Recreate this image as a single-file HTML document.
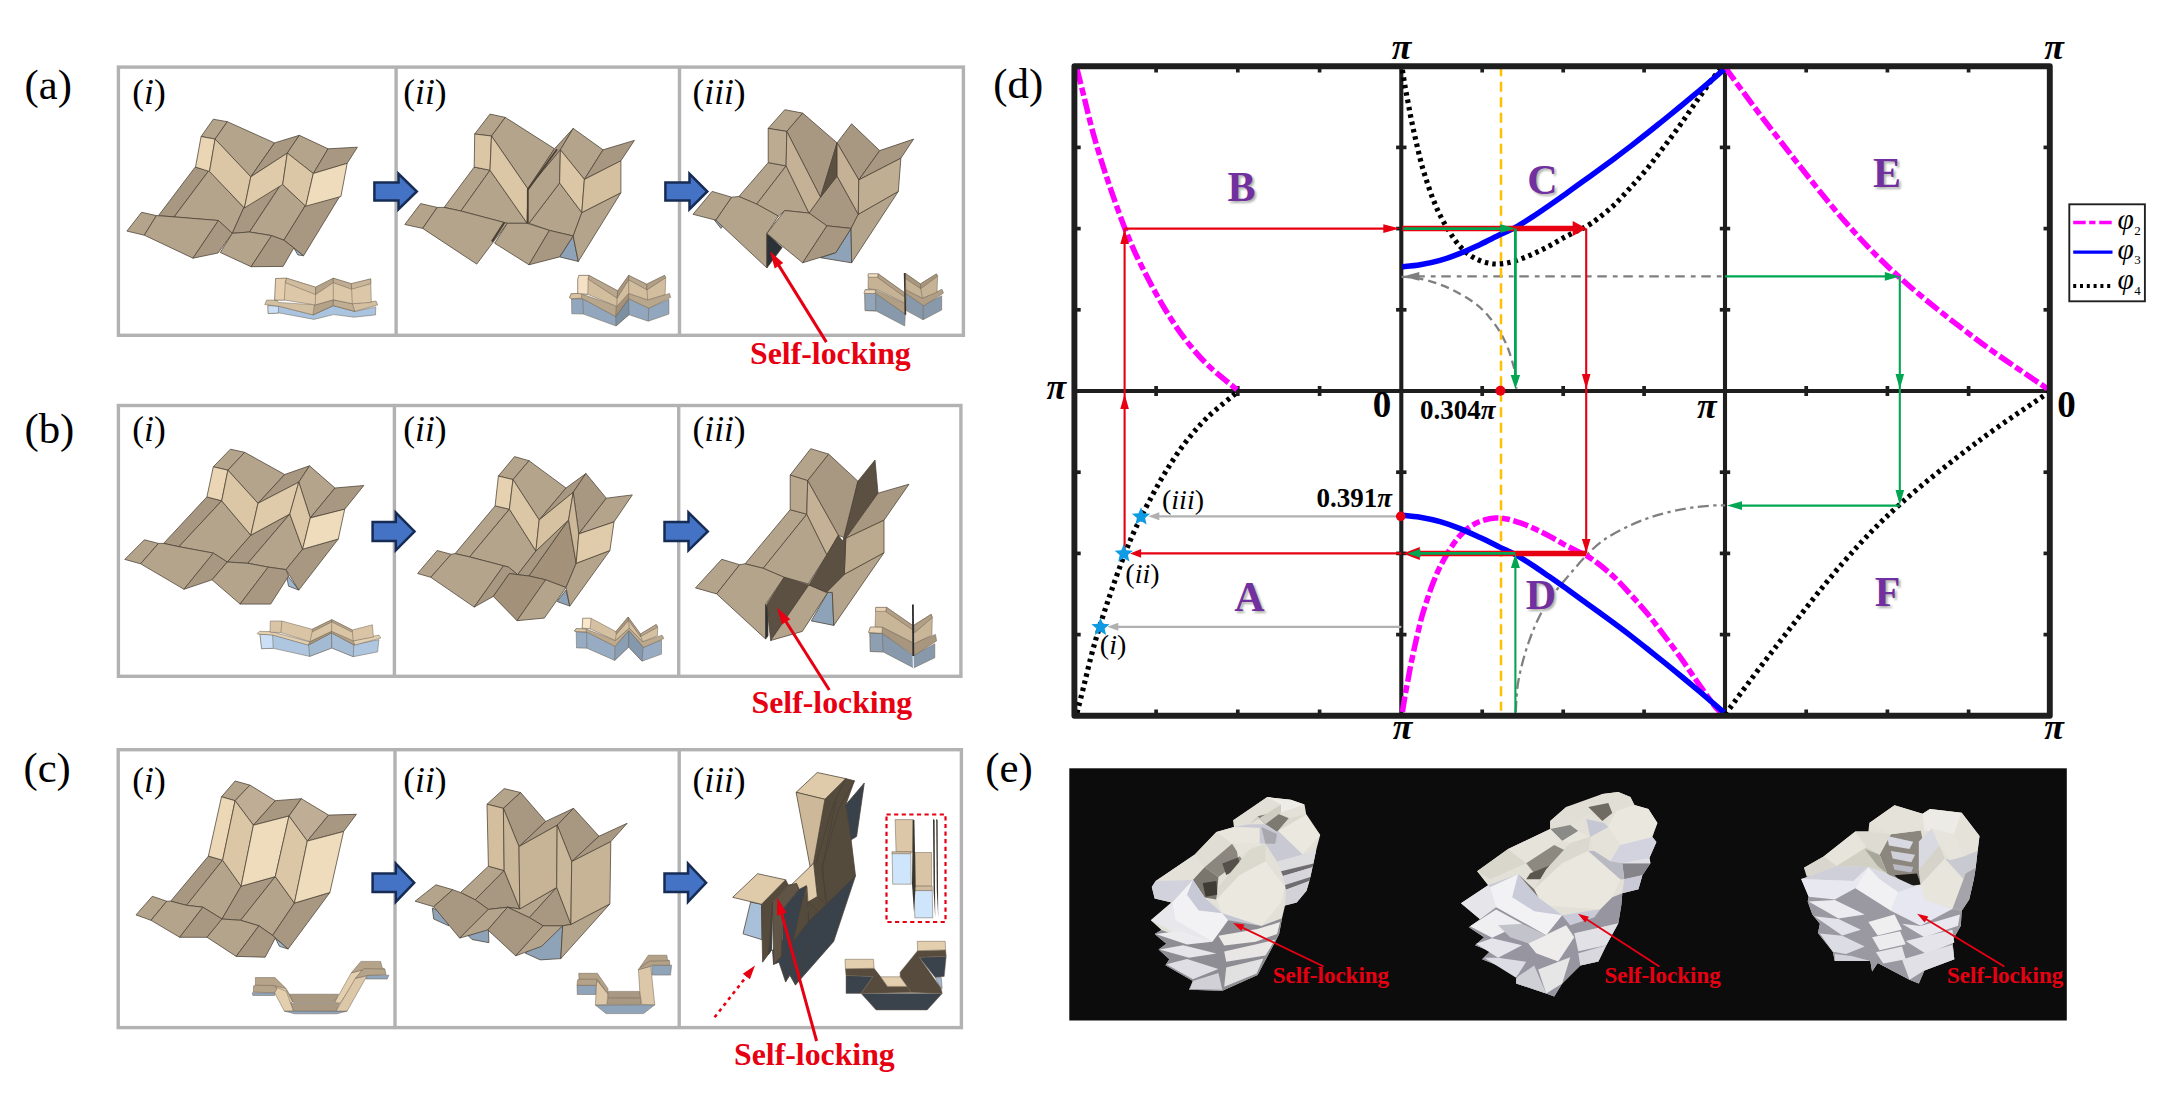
<!DOCTYPE html>
<html><head><meta charset="utf-8"><title>Figure</title>
<style>
html,body{margin:0;padding:0;background:#fff;}
body{width:2173px;height:1098px;overflow:hidden;}
svg{display:block;}
text{font-family:"Liberation Serif",serif;}
.b{font-weight:bold;}
.i{font-style:italic;}
</style></head><body>
<svg width="2173" height="1098" viewBox="0 0 2173 1098">
<rect x="118.4" y="67.1" width="845.0" height="268.2" fill="none" stroke="#b2b2b2" stroke-width="3.4"/>
<line x1="396.1" y1="67.1" x2="396.1" y2="335.3" stroke="#b2b2b2" stroke-width="3.4"/>
<line x1="679.5" y1="67.1" x2="679.5" y2="335.3" stroke="#b2b2b2" stroke-width="3.4"/>
<rect x="118.4" y="405.5" width="842.5" height="270.8" fill="none" stroke="#b2b2b2" stroke-width="3.4"/>
<line x1="394.4" y1="405.5" x2="394.4" y2="676.3" stroke="#b2b2b2" stroke-width="3.4"/>
<line x1="678.7" y1="405.5" x2="678.7" y2="676.3" stroke="#b2b2b2" stroke-width="3.4"/>
<rect x="118.2" y="749.7" width="843.2" height="277.9" fill="none" stroke="#b2b2b2" stroke-width="3.4"/>
<line x1="395.0" y1="749.7" x2="395.0" y2="1027.6" stroke="#b2b2b2" stroke-width="3.4"/>
<line x1="679.2" y1="749.7" x2="679.2" y2="1027.6" stroke="#b2b2b2" stroke-width="3.4"/>
<polygon points="293.8,247.9 303.6,255.7 297.9,254.9" fill="#9db6d2" stroke="#4a4034" stroke-width="0.75" stroke-linejoin="round"/>
<polygon points="195.1,167.2 208.9,170.5 174.1,216.9 158.5,215.6" fill="#a89882" stroke="#4a4034" stroke-width="0.75" stroke-linejoin="round"/>
<polygon points="208.9,170.5 243.8,207.7 232.3,233.3 218.4,220.5 174.1,216.9" fill="#b4a48c" stroke="#4a4034" stroke-width="0.75" stroke-linejoin="round"/>
<polygon points="243.8,207.7 281.5,183.6 249.5,232.0 232.3,233.3" fill="#a89882" stroke="#4a4034" stroke-width="0.75" stroke-linejoin="round"/>
<polygon points="281.5,183.6 305.2,205.7 283.9,240.2 271.6,235.6 249.5,232.0" fill="#b4a48c" stroke="#4a4034" stroke-width="0.75" stroke-linejoin="round"/>
<polygon points="305.2,205.7 339.7,196.4 303.6,255.7 293.8,247.9 283.9,240.2" fill="#a89882" stroke="#4a4034" stroke-width="0.75" stroke-linejoin="round"/>
<polygon points="141.6,212.3 156.4,215.6 144.3,235.2 126.9,231.1" fill="#b4a48c" stroke="#4a4034" stroke-width="0.75" stroke-linejoin="round"/>
<polygon points="156.4,215.6 174.1,216.9 218.4,220.5 193.0,258.2 144.3,235.2" fill="#b4a48c" stroke="#4a4034" stroke-width="0.75" stroke-linejoin="round"/>
<polygon points="218.4,220.5 232.3,233.3 218.0,253.0 193.0,258.2" fill="#a89882" stroke="#4a4034" stroke-width="0.75" stroke-linejoin="round"/>
<polygon points="232.3,233.3 249.5,232.0 271.6,235.6 251.1,266.7 220.3,252.5" fill="#b4a48c" stroke="#4a4034" stroke-width="0.75" stroke-linejoin="round"/>
<polygon points="271.6,235.6 283.9,240.2 293.8,247.9 283.1,266.4 251.1,266.7" fill="#a89882" stroke="#4a4034" stroke-width="0.75" stroke-linejoin="round"/>
<polygon points="213.3,119.2 227.3,121.7 215.1,139.1 201.1,136.5" fill="#b4a48c" stroke="#4a4034" stroke-width="0.75" stroke-linejoin="round"/>
<polygon points="227.3,121.7 274.5,142.9 250.8,176.8 215.1,139.1" fill="#b4a48c" stroke="#4a4034" stroke-width="0.75" stroke-linejoin="round"/>
<polygon points="274.5,142.9 299.3,135.3 287.3,153.1 250.8,176.8" fill="#a89882" stroke="#4a4034" stroke-width="0.75" stroke-linejoin="round"/>
<polygon points="299.3,135.3 328.1,148.8 313.3,173.5 287.3,153.1" fill="#b4a48c" stroke="#4a4034" stroke-width="0.75" stroke-linejoin="round"/>
<polygon points="328.1,148.8 357.4,147.2 347.2,163.3 313.3,173.5" fill="#a89882" stroke="#4a4034" stroke-width="0.75" stroke-linejoin="round"/>
<polygon points="201.1,136.5 215.1,139.1 209.5,171.5 195.5,167.1" fill="#ead5b4" stroke="#4a4034" stroke-width="0.75" stroke-linejoin="round"/>
<polygon points="215.1,139.1 250.8,176.8 244.4,208.0 209.5,171.5" fill="#dbc6a6" stroke="#4a4034" stroke-width="0.75" stroke-linejoin="round"/>
<polygon points="250.8,176.8 287.3,153.1 282.7,184.5 244.4,208.0" fill="#dfcaaa" stroke="#4a4034" stroke-width="0.75" stroke-linejoin="round"/>
<polygon points="287.3,153.1 313.3,173.5 305.7,206.2 282.7,184.5" fill="#dbc6a6" stroke="#4a4034" stroke-width="0.75" stroke-linejoin="round"/>
<polygon points="313.3,173.5 347.2,163.3 340.9,196.5 305.7,206.2" fill="#efdcbc" stroke="#4a4034" stroke-width="0.75" stroke-linejoin="round"/>
<polygon points="573.2,236.0 578.3,261.5 559.6,256.9" fill="#8ea2b8" stroke="#4a4034" stroke-width="0.75" stroke-linejoin="round"/>
<polygon points="474.2,167.1 490.0,170.2 460.9,211.0 444.1,207.4" fill="#b4a48c" stroke="#4a4034" stroke-width="0.75" stroke-linejoin="round"/>
<polygon points="490.0,170.2 527.2,223.3 507.3,223.3 460.9,211.0" fill="#b4a48c" stroke="#4a4034" stroke-width="0.75" stroke-linejoin="round"/>
<polygon points="529.0,223.3 559.6,183.0 581.8,212.6 573.2,236.0 549.4,230.4" fill="#b4a48c" stroke="#4a4034" stroke-width="0.75" stroke-linejoin="round"/>
<polygon points="581.8,212.6 620.9,192.7 578.3,261.5 573.2,236.0" fill="#b4a48c" stroke="#4a4034" stroke-width="0.75" stroke-linejoin="round"/>
<polygon points="420.6,203.6 437.2,207.4 422.7,228.4 404.8,224.5" fill="#b4a48c" stroke="#4a4034" stroke-width="0.75" stroke-linejoin="round"/>
<polygon points="437.2,207.4 444.1,207.4 460.9,211.0 507.3,223.3 476.7,264.1 422.7,228.4" fill="#b4a48c" stroke="#4a4034" stroke-width="0.75" stroke-linejoin="round"/>
<polygon points="507.3,223.3 527.2,223.3 549.4,230.4 529.0,264.8 494.6,243.2" fill="#b4a48c" stroke="#4a4034" stroke-width="0.75" stroke-linejoin="round"/>
<polygon points="549.4,230.4 573.2,236.0 559.6,256.9 529.0,264.8" fill="#a89882" stroke="#4a4034" stroke-width="0.75" stroke-linejoin="round"/>
<polyline points="504.3,222.5 492.0,241.6" fill="none" stroke="#4a4034" stroke-width="2.2" />
<polygon points="490.0,114.1 505.3,117.4 491.5,136.0 474.7,134.0" fill="#b4a48c" stroke="#4a4034" stroke-width="0.75" stroke-linejoin="round"/>
<polygon points="474.7,134.0 491.5,136.0 490.0,170.2 474.2,167.1" fill="#dbc6a6" stroke="#4a4034" stroke-width="0.75" stroke-linejoin="round"/>
<polygon points="505.3,117.4 554.5,148.8 527.8,188.8 491.5,136.0" fill="#b4a48c" stroke="#4a4034" stroke-width="0.75" stroke-linejoin="round"/>
<polygon points="491.5,136.0 527.8,188.8 527.2,223.3 490.0,170.2" fill="#dbc6a6" stroke="#4a4034" stroke-width="0.75" stroke-linejoin="round"/>
<polygon points="554.5,148.8 573.2,128.4 560.4,149.8 527.8,188.8" fill="#a89882" stroke="#4a4034" stroke-width="0.75" stroke-linejoin="round"/>
<polygon points="527.8,188.8 560.4,149.8 559.6,183.0 529.0,223.3 527.2,223.3" fill="#b4a48c" stroke="#4a4034" stroke-width="0.75" stroke-linejoin="round"/>
<polygon points="573.2,128.4 603.0,149.8 584.4,179.4 560.4,149.8" fill="#b4a48c" stroke="#4a4034" stroke-width="0.75" stroke-linejoin="round"/>
<polygon points="560.4,149.8 584.4,179.4 581.8,212.6 559.6,183.0" fill="#dbc6a6" stroke="#4a4034" stroke-width="0.75" stroke-linejoin="round"/>
<polygon points="603.0,149.8 634.4,140.4 620.9,160.8 584.4,179.4" fill="#a89882" stroke="#4a4034" stroke-width="0.75" stroke-linejoin="round"/>
<polygon points="584.4,179.4 620.9,160.8 620.9,192.7 581.8,212.6" fill="#d4bf9f" stroke="#4a4034" stroke-width="0.75" stroke-linejoin="round"/>
<polyline points="557.1,149.3 527.8,189.6 527.8,223.3" fill="none" stroke="#4a4034" stroke-width="1.8" />
<polygon points="713.9,219.4 721.0,228.4 724.8,223.3" fill="#8ea2b8" stroke="#4a4034" stroke-width="0.75" stroke-linejoin="round"/>
<polygon points="851.1,228.4 851.6,262.8 820.5,257.7 835.8,252.6" fill="#8ea2b8" stroke="#4a4034" stroke-width="0.75" stroke-linejoin="round"/>
<polygon points="768.2,162.6 786.1,165.9 756.7,204.1 738.9,196.5" fill="#b4a48c" stroke="#4a4034" stroke-width="0.75" stroke-linejoin="round"/>
<polygon points="786.1,165.9 809.0,213.1 784.8,210.5 778.4,216.1 756.7,204.1" fill="#b4a48c" stroke="#4a4034" stroke-width="0.75" stroke-linejoin="round"/>
<polygon points="820.5,197.2 837.1,176.1 858.3,214.3 851.1,228.4 826.9,225.8 809.0,213.1" fill="#a89882" stroke="#4a4034" stroke-width="0.75" stroke-linejoin="round"/>
<polygon points="858.3,214.3 898.3,191.4 851.6,262.8 851.1,228.4" fill="#b4a48c" stroke="#4a4034" stroke-width="0.75" stroke-linejoin="round"/>
<polygon points="712.1,191.4 731.7,197.2 715.9,220.2 693.0,214.3" fill="#b4a48c" stroke="#4a4034" stroke-width="0.75" stroke-linejoin="round"/>
<polygon points="731.7,197.2 738.9,196.5 756.7,204.1 778.4,216.1 766.9,233.5 766.9,267.9 715.9,220.2" fill="#b4a48c" stroke="#4a4034" stroke-width="0.75" stroke-linejoin="round"/>
<polygon points="766.9,233.5 782.2,247.5 766.9,267.9" fill="#2c3037" stroke="#4a4034" stroke-width="0.75" stroke-linejoin="round"/>
<polygon points="784.8,210.5 809.0,213.1 826.9,225.8 802.7,262.8 766.9,233.5" fill="#b4a48c" stroke="#4a4034" stroke-width="0.75" stroke-linejoin="round"/>
<polygon points="826.9,225.8 851.1,228.4 835.8,252.6 802.7,262.8" fill="#a89882" stroke="#4a4034" stroke-width="0.75" stroke-linejoin="round"/>
<polygon points="784.8,109.7 802.7,113.1 786.8,131.4 768.2,128.4" fill="#b4a48c" stroke="#4a4034" stroke-width="0.75" stroke-linejoin="round"/>
<polygon points="768.2,128.4 786.8,131.4 786.1,165.9 768.2,162.6" fill="#bcab91" stroke="#4a4034" stroke-width="0.75" stroke-linejoin="round"/>
<polygon points="802.7,113.1 837.1,142.9 820.5,197.2 786.8,131.4" fill="#a89882" stroke="#4a4034" stroke-width="0.75" stroke-linejoin="round"/>
<polygon points="786.8,131.4 820.5,197.2 809.0,213.1 786.1,165.9" fill="#c5b296" stroke="#4a4034" stroke-width="0.75" stroke-linejoin="round"/>
<polygon points="837.1,142.9 837.1,176.1 820.5,197.2" fill="#5b5042" stroke="#4a4034" stroke-width="0.75" stroke-linejoin="round"/>
<polygon points="837.1,142.9 851.6,123.8 879.7,150.6 858.8,179.9" fill="#a89882" stroke="#4a4034" stroke-width="0.75" stroke-linejoin="round"/>
<polygon points="837.1,142.9 858.8,179.9 858.3,214.3 837.1,176.1" fill="#c5b296" stroke="#4a4034" stroke-width="0.75" stroke-linejoin="round"/>
<polygon points="879.7,150.6 913.6,139.1 900.9,158.2 858.8,179.9" fill="#a89882" stroke="#4a4034" stroke-width="0.75" stroke-linejoin="round"/>
<polygon points="858.8,179.9 900.9,158.2 898.3,191.4 858.3,214.3" fill="#c0ae93" stroke="#4a4034" stroke-width="0.75" stroke-linejoin="round"/>
<polygon points="286.0,573.5 298.8,590.1 288.6,586.2" fill="#9db6d2" stroke="#4a4034" stroke-width="0.75" stroke-linejoin="round"/>
<polygon points="206.9,496.9 221.7,500.8 178.9,546.7 163.6,543.4" fill="#a89882" stroke="#4a4034" stroke-width="0.75" stroke-linejoin="round"/>
<polygon points="221.7,500.8 250.8,535.2 227.3,562.0 213.3,553.1 178.9,546.7" fill="#b4a48c" stroke="#4a4034" stroke-width="0.75" stroke-linejoin="round"/>
<polygon points="250.8,535.2 289.8,514.0 247.8,563.3 227.3,562.0" fill="#a89882" stroke="#4a4034" stroke-width="0.75" stroke-linejoin="round"/>
<polygon points="289.8,514.0 302.6,549.2 286.0,569.6 268.2,567.1 247.8,563.3" fill="#b4a48c" stroke="#4a4034" stroke-width="0.75" stroke-linejoin="round"/>
<polygon points="302.6,549.2 338.3,539.0 298.8,590.1 286.0,569.6" fill="#a89882" stroke="#4a4034" stroke-width="0.75" stroke-linejoin="round"/>
<polygon points="144.4,539.8 158.5,543.4 140.6,563.8 124.8,559.4" fill="#b4a48c" stroke="#4a4034" stroke-width="0.75" stroke-linejoin="round"/>
<polygon points="158.5,543.4 163.6,543.4 178.9,546.7 213.3,553.1 184.0,589.3 140.6,563.8" fill="#b4a48c" stroke="#4a4034" stroke-width="0.75" stroke-linejoin="round"/>
<polygon points="213.3,553.1 227.3,562.0 212.0,579.8 184.0,589.3" fill="#a89882" stroke="#4a4034" stroke-width="0.75" stroke-linejoin="round"/>
<polygon points="227.3,562.0 247.8,563.3 268.2,567.1 240.1,604.1 212.0,579.8" fill="#b4a48c" stroke="#4a4034" stroke-width="0.75" stroke-linejoin="round"/>
<polygon points="268.2,567.1 286.0,569.6 288.6,576.0 270.7,604.1 240.1,604.1" fill="#a89882" stroke="#4a4034" stroke-width="0.75" stroke-linejoin="round"/>
<polygon points="230.4,449.2 244.7,452.3 227.9,470.2 213.3,466.8" fill="#b4a48c" stroke="#4a4034" stroke-width="0.75" stroke-linejoin="round"/>
<polygon points="213.3,466.8 227.9,470.2 221.7,500.8 206.9,496.9" fill="#ead5b4" stroke="#4a4034" stroke-width="0.75" stroke-linejoin="round"/>
<polygon points="244.7,452.3 284.7,474.5 258.0,503.3 227.9,470.2" fill="#b4a48c" stroke="#4a4034" stroke-width="0.75" stroke-linejoin="round"/>
<polygon points="227.9,470.2 258.0,503.3 250.8,535.2 221.7,500.8" fill="#dbc6a6" stroke="#4a4034" stroke-width="0.75" stroke-linejoin="round"/>
<polygon points="284.7,474.5 309.5,465.8 298.8,482.1 258.0,503.3" fill="#a89882" stroke="#4a4034" stroke-width="0.75" stroke-linejoin="round"/>
<polygon points="258.0,503.3 298.8,482.1 289.8,514.0 250.8,535.2" fill="#dfcaaa" stroke="#4a4034" stroke-width="0.75" stroke-linejoin="round"/>
<polygon points="309.5,465.8 335.0,488.0 310.3,517.9 298.8,482.1" fill="#b4a48c" stroke="#4a4034" stroke-width="0.75" stroke-linejoin="round"/>
<polygon points="298.8,482.1 310.3,517.9 302.6,549.2 289.8,514.0" fill="#dbc6a6" stroke="#4a4034" stroke-width="0.75" stroke-linejoin="round"/>
<polygon points="335.0,488.0 363.8,485.5 344.7,509.2 310.3,517.9" fill="#a89882" stroke="#4a4034" stroke-width="0.75" stroke-linejoin="round"/>
<polygon points="310.3,517.9 344.7,509.2 338.3,539.0 302.6,549.2" fill="#efdcbc" stroke="#4a4034" stroke-width="0.75" stroke-linejoin="round"/>
<polygon points="566.0,590.1 569.8,606.1 557.1,601.5" fill="#8ea2b8" stroke="#4a4034" stroke-width="0.75" stroke-linejoin="round"/>
<polygon points="495.1,505.9 509.4,509.2 469.6,556.9 455.1,553.6" fill="#b4a48c" stroke="#4a4034" stroke-width="0.75" stroke-linejoin="round"/>
<polygon points="509.4,509.2 535.9,551.0 517.6,574.7 508.6,567.1 469.6,556.9" fill="#b4a48c" stroke="#4a4034" stroke-width="0.75" stroke-linejoin="round"/>
<polygon points="535.9,551.0 568.6,519.9 529.0,576.0 517.6,574.7" fill="#a89882" stroke="#4a4034" stroke-width="0.75" stroke-linejoin="round"/>
<polygon points="568.6,519.9 576.2,563.3 566.0,587.5 545.6,579.8 529.0,576.0" fill="#a39279" stroke="#4a4034" stroke-width="0.75" stroke-linejoin="round"/>
<polygon points="576.2,563.3 609.9,550.5 569.8,606.1 566.0,587.5" fill="#b4a48c" stroke="#4a4034" stroke-width="0.75" stroke-linejoin="round"/>
<polygon points="437.2,550.5 451.2,554.3 430.8,577.3 417.6,573.5" fill="#b4a48c" stroke="#4a4034" stroke-width="0.75" stroke-linejoin="round"/>
<polygon points="451.2,554.3 455.1,553.6 469.6,556.9 503.5,565.8 474.2,607.1 430.8,577.3" fill="#b4a48c" stroke="#4a4034" stroke-width="0.75" stroke-linejoin="round"/>
<polygon points="503.5,565.8 508.6,567.1 517.6,574.7 509.4,573.5 493.3,596.4 474.2,607.1" fill="#a89882" stroke="#4a4034" stroke-width="0.75" stroke-linejoin="round"/>
<polygon points="509.4,573.5 517.6,574.7 529.0,576.0 545.6,579.8 517.0,620.7 493.3,596.4" fill="#a39279" stroke="#4a4034" stroke-width="0.75" stroke-linejoin="round"/>
<polygon points="545.6,579.8 566.0,587.5 544.3,618.1 517.0,620.7" fill="#b4a48c" stroke="#4a4034" stroke-width="0.75" stroke-linejoin="round"/>
<polygon points="514.5,456.6 529.0,460.7 513.0,479.6 498.4,476.0" fill="#b4a48c" stroke="#4a4034" stroke-width="0.75" stroke-linejoin="round"/>
<polygon points="498.4,476.0 513.0,479.6 509.4,509.2 495.1,505.9" fill="#e6d1b0" stroke="#4a4034" stroke-width="0.75" stroke-linejoin="round"/>
<polygon points="529.0,460.7 566.0,488.0 539.2,519.9 513.0,479.6" fill="#b4a48c" stroke="#4a4034" stroke-width="0.75" stroke-linejoin="round"/>
<polygon points="513.0,479.6 539.2,519.9 535.9,551.0 509.4,509.2" fill="#dbc6a6" stroke="#4a4034" stroke-width="0.75" stroke-linejoin="round"/>
<polygon points="566.0,488.0 585.9,473.5 573.2,492.3 539.2,519.9" fill="#a89882" stroke="#4a4034" stroke-width="0.75" stroke-linejoin="round"/>
<polygon points="539.2,519.9 573.2,492.3 568.6,519.9 535.9,551.0" fill="#d6c1a1" stroke="#4a4034" stroke-width="0.75" stroke-linejoin="round"/>
<polygon points="585.9,473.5 606.3,498.2 578.8,533.9 573.2,492.3" fill="#a89882" stroke="#4a4034" stroke-width="0.75" stroke-linejoin="round"/>
<polygon points="573.2,492.3 578.8,533.9 576.2,563.3 568.6,519.9" fill="#cdb999" stroke="#4a4034" stroke-width="0.75" stroke-linejoin="round"/>
<polygon points="606.3,498.2 632.3,494.9 614.0,521.9 578.8,533.9" fill="#b4a48c" stroke="#4a4034" stroke-width="0.75" stroke-linejoin="round"/>
<polygon points="578.8,533.9 614.0,521.9 609.9,550.5 576.2,563.3" fill="#e0cbaa" stroke="#4a4034" stroke-width="0.75" stroke-linejoin="round"/>
<polygon points="827.8,592.4 832.3,592.4 833.8,625.4 811.3,620.9" fill="#8ea2b8" stroke="#4a4034" stroke-width="0.75" stroke-linejoin="round"/>
<polygon points="790.2,509.7 806.8,514.2 763.2,568.3 745.1,563.8" fill="#b4a48c" stroke="#4a4034" stroke-width="0.75" stroke-linejoin="round"/>
<polygon points="806.8,514.2 826.9,554.8 808.3,583.9 784.2,577.3 763.2,568.3" fill="#b4a48c" stroke="#4a4034" stroke-width="0.75" stroke-linejoin="round"/>
<polygon points="844.3,574.3 884.0,552.7 833.8,625.4 832.3,592.4 826.3,592.4" fill="#b4a48c" stroke="#4a4034" stroke-width="0.75" stroke-linejoin="round"/>
<polygon points="721.7,559.3 739.7,564.7 716.6,593.9 695.5,587.9" fill="#b4a48c" stroke="#4a4034" stroke-width="0.75" stroke-linejoin="round"/>
<polygon points="739.7,564.7 745.1,563.8 763.2,568.3 784.2,577.3 765.6,604.4 765.6,639.0 716.6,593.9" fill="#b4a48c" stroke="#4a4034" stroke-width="0.75" stroke-linejoin="round"/>
<polygon points="765.6,604.4 768.0,607.4 768.0,635.9 765.6,639.0" fill="#2c3037" stroke="#4a4034" stroke-width="0.75" stroke-linejoin="round"/>
<polygon points="784.2,577.3 808.9,584.9 770.7,640.5 766.8,604.4" fill="#5b5042" stroke="#4a4034" stroke-width="0.75" stroke-linejoin="round"/>
<polygon points="808.9,584.9 827.8,592.4 802.3,631.4 770.7,640.5" fill="#b4a48c" stroke="#4a4034" stroke-width="0.75" stroke-linejoin="round"/>
<polygon points="810.7,448.7 828.7,454.1 807.7,480.6 790.2,475.1" fill="#b4a48c" stroke="#4a4034" stroke-width="0.75" stroke-linejoin="round"/>
<polygon points="790.2,475.1 807.7,480.6 806.8,514.2 790.2,509.7" fill="#b9a88e" stroke="#4a4034" stroke-width="0.75" stroke-linejoin="round"/>
<polygon points="828.7,454.1 857.9,481.2 845.8,538.3 838.3,535.3 807.7,480.6" fill="#a89882" stroke="#4a4034" stroke-width="0.75" stroke-linejoin="round"/>
<polygon points="807.7,480.6 838.3,535.3 826.9,554.8 806.8,514.2" fill="#c5b296" stroke="#4a4034" stroke-width="0.75" stroke-linejoin="round"/>
<polygon points="857.9,481.2 875.0,460.1 878.0,493.2 845.8,538.3 842.8,541.3" fill="#5b5042" stroke="#4a4034" stroke-width="0.75" stroke-linejoin="round"/>
<polygon points="878.0,493.2 909.0,484.2 884.0,520.2 845.8,538.3" fill="#a89882" stroke="#4a4034" stroke-width="0.75" stroke-linejoin="round"/>
<polygon points="845.8,538.3 884.0,520.2 884.0,552.7 844.3,574.3" fill="#bcaa8f" stroke="#4a4034" stroke-width="0.75" stroke-linejoin="round"/>
<polygon points="826.9,554.8 838.3,535.3 842.8,541.3 845.8,538.3 844.3,574.3 826.3,592.4 808.9,584.9" fill="#5b5042" stroke="#4a4034" stroke-width="0.75" stroke-linejoin="round"/>
<polygon points="275.3,938.1 288.1,949.0 279.4,946.3" fill="#9db6d2" stroke="#4a4034" stroke-width="0.75" stroke-linejoin="round"/>
<polygon points="208.4,856.1 222.6,860.2 186.5,905.3 170.7,901.2" fill="#a89882" stroke="#4a4034" stroke-width="0.75" stroke-linejoin="round"/>
<polygon points="222.6,860.2 241.1,886.2 222.0,919.0 202.9,907.2 186.5,905.3" fill="#b4a48c" stroke="#4a4034" stroke-width="0.75" stroke-linejoin="round"/>
<polygon points="241.1,886.2 275.3,876.6 240.6,920.3 222.0,919.0" fill="#a89882" stroke="#4a4034" stroke-width="0.75" stroke-linejoin="round"/>
<polygon points="275.3,876.6 294.4,903.1 272.6,935.4 258.9,925.8 240.6,920.3" fill="#b4a48c" stroke="#4a4034" stroke-width="0.75" stroke-linejoin="round"/>
<polygon points="294.4,903.1 329.9,892.5 288.1,949.0 272.6,935.4" fill="#a89882" stroke="#4a4034" stroke-width="0.75" stroke-linejoin="round"/>
<polygon points="152.3,896.3 166.8,901.2 151.0,920.3 136.0,914.9" fill="#b4a48c" stroke="#4a4034" stroke-width="0.75" stroke-linejoin="round"/>
<polygon points="166.8,901.2 170.7,901.2 186.5,905.3 202.9,907.2 179.7,937.3 151.0,920.3" fill="#b4a48c" stroke="#4a4034" stroke-width="0.75" stroke-linejoin="round"/>
<polygon points="202.9,907.2 222.0,919.0 207.0,937.3 179.7,937.3" fill="#a89882" stroke="#4a4034" stroke-width="0.75" stroke-linejoin="round"/>
<polygon points="222.0,919.0 240.6,920.3 258.9,925.8 236.2,956.4 207.0,937.3" fill="#b4a48c" stroke="#4a4034" stroke-width="0.75" stroke-linejoin="round"/>
<polygon points="258.9,925.8 272.6,935.4 275.3,938.1 265.2,957.2 236.2,956.4" fill="#a89882" stroke="#4a4034" stroke-width="0.75" stroke-linejoin="round"/>
<polygon points="235.1,781.0 249.9,785.1 235.1,800.7 221.5,796.8" fill="#b4a48c" stroke="#4a4034" stroke-width="0.75" stroke-linejoin="round"/>
<polygon points="221.5,796.8 235.1,800.7 222.6,860.2 208.4,856.1" fill="#ecd8b7" stroke="#4a4034" stroke-width="0.75" stroke-linejoin="round"/>
<polygon points="249.9,785.1 275.3,800.7 253.4,825.2 235.1,800.7" fill="#bfae95" stroke="#4a4034" stroke-width="0.75" stroke-linejoin="round"/>
<polygon points="235.1,800.7 253.4,825.2 241.1,886.2 222.6,860.2" fill="#dbc6a6" stroke="#4a4034" stroke-width="0.75" stroke-linejoin="round"/>
<polygon points="275.3,800.7 301.3,798.7 289.0,816.0 253.4,825.2" fill="#a89882" stroke="#4a4034" stroke-width="0.75" stroke-linejoin="round"/>
<polygon points="253.4,825.2 289.0,816.0 275.3,876.6 241.1,886.2" fill="#efdcbc" stroke="#4a4034" stroke-width="0.75" stroke-linejoin="round"/>
<polygon points="301.3,798.7 328.6,815.1 307.3,841.1 289.0,816.0" fill="#bfae95" stroke="#4a4034" stroke-width="0.75" stroke-linejoin="round"/>
<polygon points="289.0,816.0 307.3,841.1 294.4,903.1 275.3,876.6" fill="#dbc6a6" stroke="#4a4034" stroke-width="0.75" stroke-linejoin="round"/>
<polygon points="328.6,815.1 356.4,814.3 343.6,831.5 307.3,841.1" fill="#a89882" stroke="#4a4034" stroke-width="0.75" stroke-linejoin="round"/>
<polygon points="307.3,841.1 343.6,831.5 329.9,892.5 294.4,903.1" fill="#efdcbc" stroke="#4a4034" stroke-width="0.75" stroke-linejoin="round"/>
<polygon points="432.3,908.0 448.7,914.9 448.7,925.8 433.7,919.0" fill="#8ea2b8" stroke="#4a4034" stroke-width="0.75" stroke-linejoin="round"/>
<polygon points="467.9,935.4 488.4,928.5 488.9,942.7 472.0,939.5" fill="#8ea2b8" stroke="#4a4034" stroke-width="0.75" stroke-linejoin="round"/>
<polygon points="525.2,953.1 562.7,925.8 560.8,958.6 540.3,959.9" fill="#8ea2b8" stroke="#4a4034" stroke-width="0.75" stroke-linejoin="round"/>
<polygon points="488.4,866.2 504.2,870.6 475.2,899.8 460.5,892.5" fill="#b4a48c" stroke="#4a4034" stroke-width="0.75" stroke-linejoin="round"/>
<polygon points="504.2,870.6 519.8,908.9 507.5,907.2 488.4,909.4 475.2,899.8" fill="#a89882" stroke="#4a4034" stroke-width="0.75" stroke-linejoin="round"/>
<polygon points="519.8,908.9 556.7,887.5 529.3,917.6 507.5,907.2" fill="#b4a48c" stroke="#4a4034" stroke-width="0.75" stroke-linejoin="round"/>
<polygon points="556.7,887.5 570.9,924.4 562.7,925.8 543.0,925.8 529.3,917.6" fill="#a89882" stroke="#4a4034" stroke-width="0.75" stroke-linejoin="round"/>
<polygon points="570.9,924.4 609.9,903.9 560.8,958.6 562.7,925.8" fill="#b4a48c" stroke="#4a4034" stroke-width="0.75" stroke-linejoin="round"/>
<polygon points="435.9,884.8 452.8,889.7 433.7,906.7 415.1,901.2" fill="#b4a48c" stroke="#4a4034" stroke-width="0.75" stroke-linejoin="round"/>
<polygon points="452.8,889.7 460.5,892.5 475.2,899.8 488.4,909.4 459.7,938.1 433.7,906.7" fill="#a89882" stroke="#4a4034" stroke-width="0.75" stroke-linejoin="round"/>
<polygon points="488.4,909.4 507.5,907.2 487.8,929.9 459.7,938.1" fill="#b4a48c" stroke="#4a4034" stroke-width="0.75" stroke-linejoin="round"/>
<polygon points="507.5,907.2 529.3,917.6 543.0,925.8 515.7,955.8 487.8,929.9" fill="#a89882" stroke="#4a4034" stroke-width="0.75" stroke-linejoin="round"/>
<polygon points="543.0,925.8 562.7,925.8 541.6,946.3 515.7,955.8" fill="#b4a48c" stroke="#4a4034" stroke-width="0.75" stroke-linejoin="round"/>
<polygon points="504.2,788.6 520.6,792.5 503.4,808.3 487.0,804.2" fill="#b4a48c" stroke="#4a4034" stroke-width="0.75" stroke-linejoin="round"/>
<polygon points="487.0,804.2 503.4,808.3 504.2,870.6 488.4,866.2" fill="#d3be9e" stroke="#4a4034" stroke-width="0.75" stroke-linejoin="round"/>
<polygon points="520.6,792.5 545.7,821.4 519.0,846.6 503.4,808.3" fill="#a89882" stroke="#4a4034" stroke-width="0.75" stroke-linejoin="round"/>
<polygon points="503.4,808.3 519.0,846.6 519.8,908.9 504.2,870.6" fill="#c9b699" stroke="#4a4034" stroke-width="0.75" stroke-linejoin="round"/>
<polygon points="545.7,821.4 573.6,808.3 557.2,825.2 519.0,846.6" fill="#a89882" stroke="#4a4034" stroke-width="0.75" stroke-linejoin="round"/>
<polygon points="519.0,846.6 557.2,825.2 556.7,887.5 519.8,908.9" fill="#c7b497" stroke="#4a4034" stroke-width="0.75" stroke-linejoin="round"/>
<polygon points="573.6,808.3 599.0,836.2 571.7,861.6 557.2,825.2" fill="#a89882" stroke="#4a4034" stroke-width="0.75" stroke-linejoin="round"/>
<polygon points="557.2,825.2 571.7,861.6 570.9,924.4 556.7,887.5" fill="#cbb89a" stroke="#4a4034" stroke-width="0.75" stroke-linejoin="round"/>
<polygon points="599.0,836.2 627.2,823.3 610.8,841.6 571.7,861.6" fill="#a89882" stroke="#4a4034" stroke-width="0.75" stroke-linejoin="round"/>
<polygon points="571.7,861.6 610.8,841.6 609.9,903.9 570.9,924.4" fill="#c7b497" stroke="#4a4034" stroke-width="0.75" stroke-linejoin="round"/>
<polygon points="855.5,875.8 833.7,941.4 795.4,985.1 789.9,975.3 785.6,981.9 779.0,962.2 773.6,964.4 772.5,950.2 808.5,913.0" fill="#39414b" stroke="#4a4034" stroke-width="0.75" stroke-linejoin="round"/>
<polyline points="795.4,985.1 808.5,943.6" fill="none" stroke="#4a4034" stroke-width="0.9" />
<polyline points="785.6,981.9 792.1,956.7" fill="none" stroke="#4a4034" stroke-width="0.9" />
<polygon points="750.6,902.1 761.5,904.3 762.0,939.7 743.0,933.8" fill="#a9c0db" stroke="#4a4034" stroke-width="0.75" stroke-linejoin="round"/>
<polygon points="824.9,799.3 845.7,778.6 854.4,780.8 845.7,804.8 851.1,839.8 855.5,875.8 808.5,921.7 807.4,902.1 817.3,896.6 813.6,862.7" fill="#554b3d" stroke="#4a4034" stroke-width="0.75" stroke-linejoin="round"/>
<polygon points="845.7,804.8 864.3,783.0 856.6,836.5 851.1,839.8" fill="#39414b" stroke="#4a4034" stroke-width="0.75" stroke-linejoin="round"/>
<polyline points="845.7,778.6 833.7,803.7 816.2,862.7" fill="none" stroke="#4a4034" stroke-width="0.9" />
<polyline points="854.4,780.8 839.1,808.1 821.6,869.3 827.1,904.3" fill="none" stroke="#4a4034" stroke-width="0.9" />
<polyline points="835.8,801.5 822.7,864.9 825.4,899.9" fill="none" stroke="#4a4034" stroke-width="0.9" />
<polyline points="817.3,896.6 827.1,904.3" fill="none" stroke="#4a4034" stroke-width="0.9" />
<polyline points="807.9,902.1 817.3,910.8" fill="none" stroke="#4a4034" stroke-width="0.9" />
<polygon points="788.9,887.2 810.1,866.7 813.6,862.7 817.3,896.6 807.9,902.1 807.0,886.8 799.1,890.3 796.5,883.5" fill="#e0ccab" stroke="#4a4034" stroke-width="0.75" stroke-linejoin="round"/>
<polygon points="817.3,772.5 845.7,778.6 824.9,799.3 796.1,792.3" fill="#dfcaa9" stroke="#4a4034" stroke-width="0.75" stroke-linejoin="round"/>
<polygon points="796.1,792.3 824.9,799.3 813.6,862.7 810.1,866.7" fill="#cdb999" stroke="#4a4034" stroke-width="0.75" stroke-linejoin="round"/>
<polygon points="785.6,879.8 788.2,885.0 772.5,902.1 771.4,950.2 762.6,962.2 761.5,904.3" fill="#554b3d" stroke="#4a4034" stroke-width="0.75" stroke-linejoin="round"/>
<polygon points="788.2,885.0 796.5,883.5 799.1,889.4 783.4,908.6 781.2,956.7 773.6,964.4 772.5,902.1" fill="#5f5445" stroke="#4a4034" stroke-width="0.75" stroke-linejoin="round"/>
<polygon points="799.1,889.4 806.3,885.7 793.2,941.4 782.3,956.7 783.4,908.6" fill="#39414b" stroke="#4a4034" stroke-width="0.75" stroke-linejoin="round"/>
<polygon points="806.3,885.7 808.5,921.7 793.2,941.4" fill="#554b3d" stroke="#4a4034" stroke-width="0.75" stroke-linejoin="round"/>
<polygon points="772.5,902.1 771.4,950.2 768.5,954.5" fill="#39414b" stroke="#4a4034" stroke-width="0.75" stroke-linejoin="round"/>
<polygon points="757.6,873.7 785.6,879.8 761.5,904.3 732.7,897.3" fill="#dfcaa9" stroke="#4a4034" stroke-width="0.75" stroke-linejoin="round"/>
<polygon points="267.9,305.6 278.8,306.2 313.0,314.9 333.3,305.6 354.9,311.4 375.8,306.9 375.5,314.9 354.2,317.2 333.6,314.6 314.0,319.4 279.5,313.0 268.2,313.6" fill="#aac3de" stroke="#6e6352" stroke-width="0.5" stroke-linejoin="round"/>
<polygon points="267.9,305.6 278.5,306.2 278.5,313.0 268.2,313.6" fill="#cbe0f6" stroke="#6e6352" stroke-width="0.5" stroke-linejoin="round"/>
<polygon points="264.7,304.6 266.6,300.1 276.9,300.1 278.2,302.4 315.2,304.9 333.3,299.8 352.3,303.7 376.1,301.1 377.7,304.9 354.9,311.4 333.3,305.6 313.0,314.9 278.8,306.2" fill="#d3bfa1" stroke="#6e6352" stroke-width="0.5" stroke-linejoin="round"/>
<polygon points="314.3,305.3 333.3,299.8 333.3,305.6 313.0,314.9" fill="#b5a389" stroke="#6e6352" stroke-width="0.5" stroke-linejoin="round"/>
<polygon points="333.3,299.8 352.3,303.7 354.9,311.4 333.3,305.6" fill="#c0ad92" stroke="#6e6352" stroke-width="0.5" stroke-linejoin="round"/>
<polygon points="275.6,278.5 286.6,278.2 315.6,287.2 333.3,278.2 351.3,283.7 370.7,278.9 371.3,302.4 352.3,303.7 333.3,299.8 315.2,304.9 284.6,300.1 274.7,300.1" fill="#dcc8a9" stroke="#6e6352" stroke-width="0.5" stroke-linejoin="round"/>
<polygon points="275.6,278.5 286.6,278.2 285.3,282.7 284.3,300.1 274.7,300.1" fill="#e6cfae" stroke="#6e6352" stroke-width="0.5" stroke-linejoin="round"/>
<polygon points="286.6,278.2 315.6,287.2 315.6,294.6 285.3,282.7" fill="#cfbb9d" stroke="#6e6352" stroke-width="0.5" stroke-linejoin="round"/>
<polygon points="315.6,287.2 333.3,278.2 333.3,282.7 315.6,294.6" fill="#b5a389" stroke="#6e6352" stroke-width="0.5" stroke-linejoin="round"/>
<polygon points="333.3,278.2 351.3,283.7 351.6,289.2 333.3,282.7" fill="#bfac91" stroke="#6e6352" stroke-width="0.5" stroke-linejoin="round"/>
<polygon points="351.3,283.7 370.7,278.9 370.7,283.7 351.6,289.2" fill="#c9b699" stroke="#6e6352" stroke-width="0.5" stroke-linejoin="round"/>
<polyline points="315.6,294.6 315.2,304.9" fill="none" stroke="#6e6352" stroke-width="0.5" />
<polyline points="333.3,282.7 333.3,299.8" fill="none" stroke="#6e6352" stroke-width="0.5" />
<polyline points="351.6,289.2 352.3,303.7" fill="none" stroke="#6e6352" stroke-width="0.5" />
<polygon points="571.5,298.7 582.5,298.7 615.7,316.5 628.7,298.7 648.8,308.2 668.9,299.3 668.9,314.1 648.2,321.2 629.0,314.7 616.0,326.0 583.4,314.1 571.8,313.8" fill="#92a7be" stroke="#6e6352" stroke-width="0.5" stroke-linejoin="round"/>
<polygon points="615.7,316.5 628.7,298.7 629.0,314.7 616.0,326.0" fill="#7c8fa3" stroke="#6e6352" stroke-width="0.5" stroke-linejoin="round"/>
<polyline points="582.8,299.0 583.4,314.1" fill="none" stroke="#6e6352" stroke-width="0.5" />
<polyline points="648.8,308.2 648.2,321.2" fill="none" stroke="#6e6352" stroke-width="0.5" />
<polygon points="569.5,297.6 571.2,293.7 581.9,293.4 583.4,294.6 616.2,305.9 628.7,293.4 647.6,299.9 669.5,293.4 670.7,297.3 648.8,308.2 628.7,298.7 615.7,316.5 582.5,298.7 571.5,298.7" fill="#b9a78d" stroke="#6e6352" stroke-width="0.5" stroke-linejoin="round"/>
<polygon points="569.5,297.6 571.2,293.7 581.9,293.4 581.3,298.2 571.5,298.7" fill="#d8c4a5" stroke="#6e6352" stroke-width="0.5" stroke-linejoin="round"/>
<polygon points="616.2,305.9 628.7,293.4 628.7,298.7 615.7,316.5" fill="#a39279" stroke="#6e6352" stroke-width="0.5" stroke-linejoin="round"/>
<polygon points="578.9,275.4 589.0,275.4 617.7,290.8 628.7,275.4 646.7,284.2 664.5,275.4 665.7,277.7 665.1,294.6 647.6,299.9 628.7,293.4 616.8,306.4 588.4,294.6 577.8,293.4 577.8,279.2" fill="#d2bd9e" stroke="#6e6352" stroke-width="0.5" stroke-linejoin="round"/>
<polygon points="578.9,275.4 589.0,275.4 588.1,279.2 587.8,294.3 577.8,293.4 577.8,279.2" fill="#f5e2c6" stroke="#6e6352" stroke-width="0.5" stroke-linejoin="round"/>
<polygon points="589.0,275.4 617.7,290.8 617.1,298.2 588.1,279.2" fill="#b9a78d" stroke="#6e6352" stroke-width="0.5" stroke-linejoin="round"/>
<polygon points="617.7,290.8 628.7,275.4 628.7,279.8 617.1,298.2" fill="#a8977e" stroke="#6e6352" stroke-width="0.5" stroke-linejoin="round"/>
<polygon points="628.7,275.4 646.7,284.2 647.0,289.9 628.7,279.8" fill="#b9a78d" stroke="#6e6352" stroke-width="0.5" stroke-linejoin="round"/>
<polygon points="646.7,284.2 664.5,275.4 665.7,277.7 647.0,289.9" fill="#b09e85" stroke="#6e6352" stroke-width="0.5" stroke-linejoin="round"/>
<polyline points="617.1,298.2 616.8,306.4" fill="none" stroke="#6e6352" stroke-width="0.5" />
<polyline points="628.7,279.8 628.7,293.4" fill="none" stroke="#6e6352" stroke-width="0.5" />
<polyline points="647.0,289.9 647.6,299.9" fill="none" stroke="#6e6352" stroke-width="0.5" />
<polygon points="864.8,293.4 875.7,293.4 905.3,314.1 904.7,326.0 876.6,311.2 865.1,310.6" fill="#8799ab" stroke="#6e6352" stroke-width="0.5" stroke-linejoin="round"/>
<polygon points="864.8,293.4 875.7,293.4 875.7,310.6 865.1,310.6" fill="#93a5b8" stroke="#6e6352" stroke-width="0.5" stroke-linejoin="round"/>
<polygon points="864.5,292.8 865.4,289.6 875.7,289.9 904.7,303.5 905.3,314.1 875.7,293.4 864.8,293.4" fill="#b09e85" stroke="#6e6352" stroke-width="0.5" stroke-linejoin="round"/>
<polygon points="863.9,293.4 865.1,289.9 875.4,289.9 875.1,293.4" fill="#f0dcbf" stroke="#6e6352" stroke-width="0.5" stroke-linejoin="round"/>
<polygon points="868.3,273.9 878.4,273.9 904.7,292.8 904.7,302.9 878.1,289.9 868.0,288.7" fill="#c6b295" stroke="#6e6352" stroke-width="0.5" stroke-linejoin="round"/>
<polygon points="868.3,273.9 878.4,273.9 877.5,277.1 868.0,277.1" fill="#f5e2c6" stroke="#6e6352" stroke-width="0.5" stroke-linejoin="round"/>
<polygon points="878.4,273.9 904.7,292.8 904.7,297.0 877.8,277.7" fill="#b09e85" stroke="#6e6352" stroke-width="0.5" stroke-linejoin="round"/>
<polygon points="905.9,292.8 923.1,305.3 941.7,295.8 941.7,310.0 923.1,319.8 906.2,310.6" fill="#8799ab" stroke="#6e6352" stroke-width="0.5" stroke-linejoin="round"/>
<polyline points="923.1,305.3 923.1,319.8" fill="none" stroke="#6e6352" stroke-width="0.5" />
<polygon points="905.9,289.9 922.5,298.2 942.0,289.3 943.5,293.1 923.7,305.9 905.9,293.4" fill="#b09e85" stroke="#6e6352" stroke-width="0.5" stroke-linejoin="round"/>
<polygon points="905.3,273.3 920.4,283.9 936.4,273.9 937.6,276.2 937.0,292.2 922.5,298.2 905.9,289.9" fill="#c6b295" stroke="#6e6352" stroke-width="0.5" stroke-linejoin="round"/>
<polygon points="905.3,273.3 920.4,283.9 920.7,288.7 905.6,278.6" fill="#a8977e" stroke="#6e6352" stroke-width="0.5" stroke-linejoin="round"/>
<polygon points="920.4,283.9 936.4,273.9 937.6,276.2 920.7,288.7" fill="#a8977e" stroke="#6e6352" stroke-width="0.5" stroke-linejoin="round"/>
<polyline points="920.7,288.7 922.5,298.2" fill="none" stroke="#6e6352" stroke-width="0.5" />
<polyline points="904.6,273.0 905.4,314.7" fill="none" stroke="#3f362b" stroke-width="1.6" />
<polygon points="260.0,634.2 272.6,634.8 308.6,644.8 331.5,632.6 353.7,644.8 378.9,639.6 377.6,651.9 353.4,656.7 331.8,648.0 309.6,656.4 273.2,648.3 261.6,648.7" fill="#aec6e0" stroke="#6e6352" stroke-width="0.5" stroke-linejoin="round"/>
<polygon points="260.0,634.2 272.6,634.8 273.2,648.3 261.6,648.7" fill="#cbe0f6" stroke="#6e6352" stroke-width="0.5" stroke-linejoin="round"/>
<polygon points="308.6,644.8 331.5,632.6 331.8,648.0 309.6,656.4" fill="#a3bad3" stroke="#6e6352" stroke-width="0.5" stroke-linejoin="round"/>
<polygon points="331.5,632.6 353.7,644.8 353.4,656.7 331.8,648.0" fill="#a6bdd6" stroke="#6e6352" stroke-width="0.5" stroke-linejoin="round"/>
<polygon points="257.1,633.5 259.7,631.3 271.3,631.6 309.6,641.9 331.5,630.9 353.4,640.6 378.9,635.1 380.8,638.0 354.7,645.1 331.5,632.9 308.3,645.1 272.6,635.0 257.7,634.2" fill="#e3d0b2" stroke="#6e6352" stroke-width="0.5" stroke-linejoin="round"/>
<polygon points="309.6,641.9 331.5,630.9 331.5,632.9 308.3,645.1" fill="#a8977e" stroke="#6e6352" stroke-width="0.5" stroke-linejoin="round"/>
<polygon points="331.5,630.9 353.4,640.6 354.7,645.1 331.5,632.9" fill="#b5a389" stroke="#6e6352" stroke-width="0.5" stroke-linejoin="round"/>
<polygon points="270.3,621.0 281.9,621.0 312.2,629.3 331.8,619.7 352.4,630.0 372.4,624.8 373.4,637.1 353.1,640.9 331.5,631.3 309.9,641.6 280.9,632.6 270.0,632.2" fill="#d9c5a6" stroke="#6e6352" stroke-width="0.5" stroke-linejoin="round"/>
<polygon points="312.2,629.3 331.8,619.7 331.8,621.9 312.2,631.9" fill="#b09e85" stroke="#6e6352" stroke-width="0.5" stroke-linejoin="round"/>
<polygon points="331.8,619.7 352.4,630.0 352.4,632.2 331.8,621.9" fill="#b8a68c" stroke="#6e6352" stroke-width="0.5" stroke-linejoin="round"/>
<polyline points="281.9,621.0 280.9,632.6" fill="none" stroke="#6e6352" stroke-width="0.5" />
<polyline points="312.2,631.9 309.9,641.6" fill="none" stroke="#6e6352" stroke-width="0.5" />
<polyline points="331.8,621.9 331.5,631.3" fill="none" stroke="#6e6352" stroke-width="0.5" />
<polyline points="352.4,632.2 353.1,640.9" fill="none" stroke="#6e6352" stroke-width="0.5" />
<polygon points="576.2,631.6 586.6,631.9 615.0,646.4 628.9,630.5 643.2,647.3 661.5,639.9 661.5,654.1 642.0,661.2 628.6,647.0 614.7,660.4 586.9,648.2 576.5,647.9" fill="#97abc2" stroke="#6e6352" stroke-width="0.5" stroke-linejoin="round"/>
<polygon points="615.0,646.4 628.9,630.5 628.6,647.0 614.7,660.4" fill="#8a9eb4" stroke="#6e6352" stroke-width="0.5" stroke-linejoin="round"/>
<polygon points="628.9,630.5 643.2,647.3 642.0,661.2 628.6,647.0" fill="#8598ae" stroke="#6e6352" stroke-width="0.5" stroke-linejoin="round"/>
<polyline points="586.6,631.9 586.9,648.2" fill="none" stroke="#6e6352" stroke-width="0.5" />
<polygon points="574.5,631.1 576.0,628.7 586.3,629.0 615.3,640.5 629.2,628.1 642.6,641.7 662.1,635.2 663.9,638.5 643.7,647.3 628.9,630.5 615.0,646.4 586.6,631.9 576.2,631.6" fill="#bca98e" stroke="#6e6352" stroke-width="0.5" stroke-linejoin="round"/>
<polygon points="574.5,631.1 576.0,628.7 586.3,629.0 586.0,631.9 576.2,631.6" fill="#dcc8a9" stroke="#6e6352" stroke-width="0.5" stroke-linejoin="round"/>
<polygon points="582.8,618.3 591.1,618.3 615.9,631.6 628.1,617.1 640.5,634.0 656.2,624.5 657.7,627.2 657.4,635.8 642.6,641.7 629.2,628.1 615.3,640.5 589.9,628.7 582.2,628.1" fill="#d5c0a1" stroke="#6e6352" stroke-width="0.5" stroke-linejoin="round"/>
<polygon points="582.8,618.3 591.1,618.3 590.2,628.7 582.2,628.1" fill="#fbe8cc" stroke="#6e6352" stroke-width="0.5" stroke-linejoin="round"/>
<polygon points="615.9,631.6 628.1,617.1 628.6,620.4 616.2,634.6" fill="#a8977e" stroke="#6e6352" stroke-width="0.5" stroke-linejoin="round"/>
<polygon points="628.1,617.1 640.5,634.0 640.5,637.0 628.6,620.4" fill="#b09e85" stroke="#6e6352" stroke-width="0.5" stroke-linejoin="round"/>
<polygon points="640.5,634.0 656.2,624.5 657.7,627.2 640.8,636.4" fill="#b8a68c" stroke="#6e6352" stroke-width="0.5" stroke-linejoin="round"/>
<polyline points="616.2,634.6 615.3,640.5" fill="none" stroke="#6e6352" stroke-width="0.5" />
<polyline points="628.6,620.4 629.2,628.1" fill="none" stroke="#6e6352" stroke-width="0.5" />
<polyline points="640.8,636.4 642.6,641.7" fill="none" stroke="#6e6352" stroke-width="0.5" />
<polygon points="869.9,632.9 882.3,633.3 913.3,655.5 934.8,643.8 934.8,657.7 913.7,667.9 883.1,651.9 870.3,651.5" fill="#8799ab" stroke="#6e6352" stroke-width="0.5" stroke-linejoin="round"/>
<polygon points="869.9,632.9 882.3,633.3 883.1,651.9 870.3,651.5" fill="#8f9fb2" stroke="#6e6352" stroke-width="0.5" stroke-linejoin="round"/>
<polygon points="868.8,632.2 870.3,627.1 882.7,627.1 913.3,643.1 935.5,634.4 936.6,640.9 914.4,655.5 882.3,633.3 869.9,632.9" fill="#a8977e" stroke="#6e6352" stroke-width="0.5" stroke-linejoin="round"/>
<polygon points="868.5,632.5 870.3,627.1 882.3,627.1 882.0,633.3" fill="#e6d2b3" stroke="#6e6352" stroke-width="0.5" stroke-linejoin="round"/>
<polygon points="875.8,607.4 886.7,607.4 912.9,625.6 931.2,614.3 932.3,617.6 931.9,635.1 914.4,643.5 912.6,642.4 882.3,627.1 875.0,626.7" fill="#c9b598" stroke="#6e6352" stroke-width="0.5" stroke-linejoin="round"/>
<polygon points="875.8,607.4 886.7,607.4 885.6,611.4 875.4,611.4" fill="#e6d2b3" stroke="#6e6352" stroke-width="0.5" stroke-linejoin="round"/>
<polygon points="886.7,607.4 912.9,625.6 912.9,630.0 886.0,611.8" fill="#b09e85" stroke="#6e6352" stroke-width="0.5" stroke-linejoin="round"/>
<polygon points="914.0,625.6 931.2,614.3 932.3,617.6 914.4,632.9" fill="#b09e85" stroke="#6e6352" stroke-width="0.5" stroke-linejoin="round"/>
<polyline points="913.1,655.9 913.5,667.9" fill="none" stroke="#e8eef4" stroke-width="1.2" />
<polyline points="912.9,604.5 913.3,655.9" fill="none" stroke="#2b2b2b" stroke-width="1.8" />
<polygon points="252.2,992.8 274.7,992.8 274.7,995.5 252.9,995.5" fill="#90a6bf" stroke="#6e6352" stroke-width="0.5" stroke-linejoin="round"/>
<polygon points="284.3,1011.1 347.1,1011.1 336.8,1013.8 294.7,1013.8" fill="#90a6bf" stroke="#6e6352" stroke-width="0.5" stroke-linejoin="round"/>
<polygon points="366.5,975.2 388.9,975.2 387.2,979.0 365.8,979.0" fill="#90a6bf" stroke="#6e6352" stroke-width="0.5" stroke-linejoin="round"/>
<polygon points="289.2,994.2 338.5,994.2 334.7,1002.4 293.3,1002.4" fill="#a99983" stroke="#6e6352" stroke-width="0.5" stroke-linejoin="round"/>
<polygon points="290.5,1003.5 339.5,1003.5 336.1,1011.1 293.3,1010.7" fill="#a99983" stroke="#6e6352" stroke-width="0.5" stroke-linejoin="round"/>
<polygon points="255.4,977.6 275.0,977.6 286.1,988.6 287.8,991.4 292.6,1001.8 289.9,1003.1 283.6,994.9 274.7,992.8 253.3,992.1 253.6,985.9 255.4,985.2" fill="#b5a38a" stroke="#6e6352" stroke-width="0.5" stroke-linejoin="round"/>
<polyline points="255.4,985.2 274.0,985.5 283.6,994.9" fill="none" stroke="#6e6352" stroke-width="0.5" />
<polygon points="275.4,985.9 285.7,988.6 292.6,1001.8 289.9,1003.1 283.6,994.9" fill="#e3cead" stroke="#6e6352" stroke-width="0.5" stroke-linejoin="round"/>
<polygon points="274.7,992.8 277.4,987.6 286.4,991.4 293.3,1010.7 284.3,1011.1" fill="#e3cead" stroke="#6e6352" stroke-width="0.5" stroke-linejoin="round"/>
<polygon points="351.3,972.8 362.3,970.0 340.2,1003.1 334.7,1002.4" fill="#e3cead" stroke="#6e6352" stroke-width="0.5" stroke-linejoin="round"/>
<polygon points="355.4,978.3 367.2,975.5 347.1,1011.1 336.1,1011.1" fill="#dcc7a8" stroke="#6e6352" stroke-width="0.5" stroke-linejoin="round"/>
<polygon points="360.9,961.4 380.6,961.4 382.3,967.9 384.8,969.0 386.1,974.5 367.2,975.5 355.4,978.3 362.3,970.0 351.3,972.8" fill="#b5a38a" stroke="#6e6352" stroke-width="0.5" stroke-linejoin="round"/>
<polyline points="362.3,970.0 364.4,968.6 384.8,969.0" fill="none" stroke="#6e6352" stroke-width="0.5" />
<polygon points="577.0,985.3 596.4,985.3 596.1,994.5 577.3,994.5" fill="#8fa3b9" stroke="#6e6352" stroke-width="0.5" stroke-linejoin="round"/>
<polygon points="595.4,1005.1 654.8,1004.8 643.6,1013.6 606.0,1013.6" fill="#8fa3b9" stroke="#6e6352" stroke-width="0.5" stroke-linejoin="round"/>
<polygon points="651.7,965.2 671.6,965.2 670.5,975.1 652.1,975.1" fill="#8fa3b9" stroke="#6e6352" stroke-width="0.5" stroke-linejoin="round"/>
<polygon points="608.4,991.4 639.8,991.4 641.2,1004.4 607.3,1004.4" fill="#a99983" stroke="#6e6352" stroke-width="0.5" stroke-linejoin="round"/>
<polyline points="608.4,997.9 640.5,997.9" fill="none" stroke="#6e6352" stroke-width="0.5" />
<polygon points="578.7,973.3 597.4,973.3 608.0,988.7 607.7,993.8 597.1,980.5 596.4,985.3 577.0,985.3 577.6,979.8 579.0,979.2" fill="#b3a188" stroke="#6e6352" stroke-width="0.5" stroke-linejoin="round"/>
<polyline points="579.0,979.2 597.1,979.2 607.7,993.8" fill="none" stroke="#6e6352" stroke-width="0.5" />
<polygon points="596.4,985.3 597.1,980.5 607.7,993.8 607.0,1004.4 595.4,1005.1" fill="#dcc7a8" stroke="#6e6352" stroke-width="0.5" stroke-linejoin="round"/>
<polygon points="638.4,969.6 650.7,966.2 654.8,1004.8 641.8,1004.4 639.8,991.4" fill="#dcc7a8" stroke="#6e6352" stroke-width="0.5" stroke-linejoin="round"/>
<polygon points="648.3,955.2 666.8,955.2 667.5,959.7 669.5,960.7 669.8,965.2 651.7,965.2 650.7,966.2 638.4,969.6" fill="#b3a188" stroke="#6e6352" stroke-width="0.5" stroke-linejoin="round"/>
<polyline points="640.1,967.5 649.7,961.1 669.5,960.7" fill="none" stroke="#6e6352" stroke-width="0.5" />
<polygon points="895.1,819.6 912.8,819.6 913.2,852.1 896.1,852.1" fill="#dcc7a8" stroke="#6e6352" stroke-width="0.5" stroke-linejoin="round"/>
<polygon points="915.2,852.5 931.6,852.5 931.6,886.2 915.2,886.2" fill="#d9c4a5" stroke="#6e6352" stroke-width="0.5" stroke-linejoin="round"/>
<polygon points="892.1,852.5 910.8,852.5 911.2,884.2 892.7,884.2" fill="#cfe5fb" stroke="#6e6352" stroke-width="0.5" stroke-linejoin="round"/>
<polygon points="914.2,890.2 932.2,890.2 932.8,917.8 914.8,917.8" fill="#cfe5fb" stroke="#6e6352" stroke-width="0.5" stroke-linejoin="round"/>
<polygon points="892.1,851.7 911.2,851.7 910.8,853.7 892.1,853.7" fill="#d0bb9c" stroke="#6e6352" stroke-width="0.5" stroke-linejoin="round"/>
<polygon points="913.2,886.2 932.2,886.2 932.2,890.6 914.2,890.6" fill="#d0bb9c" stroke="#6e6352" stroke-width="0.5" stroke-linejoin="round"/>
<polygon points="912.8,819.6 914.4,820.0 915.6,886.2 914.0,912.2 912.0,884.2" fill="#3a352c" stroke="none" stroke-width="0.5" stroke-linejoin="round"/>
<polygon points="933.0,819.0 934.6,820.0 935.2,917.2 933.6,890.2" fill="#3a352c" stroke="none" stroke-width="0.5" stroke-linejoin="round"/>
<polygon points="936.2,819.0 937.6,820.0 938.2,917.2 936.8,890.2" fill="#3a352c" stroke="none" stroke-width="0.5" stroke-linejoin="round"/>
<polygon points="846.0,975.4 873.1,976.4 861.1,993.4 846.0,993.4" fill="#3a424c" stroke="#6e6352" stroke-width="0.5" stroke-linejoin="round"/>
<polygon points="861.1,993.4 942.2,993.4 927.2,1010.0 876.1,1010.0" fill="#3a424c" stroke="#6e6352" stroke-width="0.5" stroke-linejoin="round"/>
<polygon points="919.2,957.3 946.2,956.3 944.2,976.4 935.2,977.4" fill="#3a424c" stroke="#6e6352" stroke-width="0.5" stroke-linejoin="round"/>
<polygon points="935.2,977.4 941.2,977.4 942.2,988.4 939.2,985.4" fill="#9fb7d3" stroke="#6e6352" stroke-width="0.5" stroke-linejoin="round"/>
<polygon points="845.4,968.7 874.1,968.3 880.7,976.8 887.5,986.4 907.1,986.4 911.2,992.4 861.1,993.4 873.1,976.4 846.0,975.4" fill="#564b3c" stroke="#6e6352" stroke-width="0.5" stroke-linejoin="round"/>
<polygon points="900.1,972.3 917.6,950.7 945.6,949.9 946.2,956.3 919.2,957.3 941.2,988.4 942.2,993.4 911.2,992.4 900.1,976.8" fill="#564b3c" stroke="#6e6352" stroke-width="0.5" stroke-linejoin="round"/>
<polygon points="845.0,959.3 873.5,959.3 874.1,968.3 845.4,968.7" fill="#e3cead" stroke="#6e6352" stroke-width="0.5" stroke-linejoin="round"/>
<polygon points="917.2,941.3 945.2,941.3 945.6,949.9 917.6,950.7" fill="#e3cead" stroke="#6e6352" stroke-width="0.5" stroke-linejoin="round"/>
<polygon points="880.7,976.8 900.1,976.8 907.1,986.4 887.5,986.4" fill="#e3cead" stroke="#6e6352" stroke-width="0.5" stroke-linejoin="round"/>
<line x1="1401.3" y1="66.2" x2="1401.3" y2="715.8" stroke="#1e1e1e" stroke-width="4.1" />
<line x1="1725.0" y1="66.2" x2="1725.0" y2="715.8" stroke="#1e1e1e" stroke-width="4.1" />
<line x1="1074.4" y1="391.0" x2="2049.8" y2="391.0" stroke="#1e1e1e" stroke-width="3.9" />
<line x1="1156.1" y1="66.2" x2="1156.1" y2="72.5" stroke="#1e1e1e" stroke-width="3.7" />
<line x1="1156.1" y1="715.8" x2="1156.1" y2="709.5" stroke="#1e1e1e" stroke-width="3.7" />
<line x1="1156.1" y1="386.0" x2="1156.1" y2="396.0" stroke="#1e1e1e" stroke-width="3.7" />
<line x1="1237.8" y1="66.2" x2="1237.8" y2="72.5" stroke="#1e1e1e" stroke-width="3.7" />
<line x1="1237.8" y1="715.8" x2="1237.8" y2="709.5" stroke="#1e1e1e" stroke-width="3.7" />
<line x1="1237.8" y1="386.0" x2="1237.8" y2="396.0" stroke="#1e1e1e" stroke-width="3.7" />
<line x1="1319.6" y1="66.2" x2="1319.6" y2="72.5" stroke="#1e1e1e" stroke-width="3.7" />
<line x1="1319.6" y1="715.8" x2="1319.6" y2="709.5" stroke="#1e1e1e" stroke-width="3.7" />
<line x1="1319.6" y1="386.0" x2="1319.6" y2="396.0" stroke="#1e1e1e" stroke-width="3.7" />
<line x1="1482.2" y1="66.2" x2="1482.2" y2="72.5" stroke="#1e1e1e" stroke-width="3.7" />
<line x1="1482.2" y1="715.8" x2="1482.2" y2="709.5" stroke="#1e1e1e" stroke-width="3.7" />
<line x1="1482.2" y1="386.0" x2="1482.2" y2="396.0" stroke="#1e1e1e" stroke-width="3.7" />
<line x1="1563.2" y1="66.2" x2="1563.2" y2="72.5" stroke="#1e1e1e" stroke-width="3.7" />
<line x1="1563.2" y1="715.8" x2="1563.2" y2="709.5" stroke="#1e1e1e" stroke-width="3.7" />
<line x1="1563.2" y1="386.0" x2="1563.2" y2="396.0" stroke="#1e1e1e" stroke-width="3.7" />
<line x1="1644.1" y1="66.2" x2="1644.1" y2="72.5" stroke="#1e1e1e" stroke-width="3.7" />
<line x1="1644.1" y1="715.8" x2="1644.1" y2="709.5" stroke="#1e1e1e" stroke-width="3.7" />
<line x1="1644.1" y1="386.0" x2="1644.1" y2="396.0" stroke="#1e1e1e" stroke-width="3.7" />
<line x1="1806.2" y1="66.2" x2="1806.2" y2="72.5" stroke="#1e1e1e" stroke-width="3.7" />
<line x1="1806.2" y1="715.8" x2="1806.2" y2="709.5" stroke="#1e1e1e" stroke-width="3.7" />
<line x1="1806.2" y1="386.0" x2="1806.2" y2="396.0" stroke="#1e1e1e" stroke-width="3.7" />
<line x1="1887.4" y1="66.2" x2="1887.4" y2="72.5" stroke="#1e1e1e" stroke-width="3.7" />
<line x1="1887.4" y1="715.8" x2="1887.4" y2="709.5" stroke="#1e1e1e" stroke-width="3.7" />
<line x1="1887.4" y1="386.0" x2="1887.4" y2="396.0" stroke="#1e1e1e" stroke-width="3.7" />
<line x1="1968.6" y1="66.2" x2="1968.6" y2="72.5" stroke="#1e1e1e" stroke-width="3.7" />
<line x1="1968.6" y1="715.8" x2="1968.6" y2="709.5" stroke="#1e1e1e" stroke-width="3.7" />
<line x1="1968.6" y1="386.0" x2="1968.6" y2="396.0" stroke="#1e1e1e" stroke-width="3.7" />
<line x1="1074.4" y1="147.4" x2="1080.7" y2="147.4" stroke="#1e1e1e" stroke-width="3.7" />
<line x1="2049.8" y1="147.4" x2="2043.5" y2="147.4" stroke="#1e1e1e" stroke-width="3.7" />
<line x1="1396.1" y1="147.4" x2="1406.5" y2="147.4" stroke="#1e1e1e" stroke-width="3.7" />
<line x1="1719.8" y1="147.4" x2="1730.2" y2="147.4" stroke="#1e1e1e" stroke-width="3.7" />
<line x1="1074.4" y1="228.6" x2="1080.7" y2="228.6" stroke="#1e1e1e" stroke-width="3.7" />
<line x1="2049.8" y1="228.6" x2="2043.5" y2="228.6" stroke="#1e1e1e" stroke-width="3.7" />
<line x1="1396.1" y1="228.6" x2="1406.5" y2="228.6" stroke="#1e1e1e" stroke-width="3.7" />
<line x1="1719.8" y1="228.6" x2="1730.2" y2="228.6" stroke="#1e1e1e" stroke-width="3.7" />
<line x1="1074.4" y1="309.8" x2="1080.7" y2="309.8" stroke="#1e1e1e" stroke-width="3.7" />
<line x1="2049.8" y1="309.8" x2="2043.5" y2="309.8" stroke="#1e1e1e" stroke-width="3.7" />
<line x1="1396.1" y1="309.8" x2="1406.5" y2="309.8" stroke="#1e1e1e" stroke-width="3.7" />
<line x1="1719.8" y1="309.8" x2="1730.2" y2="309.8" stroke="#1e1e1e" stroke-width="3.7" />
<line x1="1074.4" y1="472.2" x2="1080.7" y2="472.2" stroke="#1e1e1e" stroke-width="3.7" />
<line x1="2049.8" y1="472.2" x2="2043.5" y2="472.2" stroke="#1e1e1e" stroke-width="3.7" />
<line x1="1396.1" y1="472.2" x2="1406.5" y2="472.2" stroke="#1e1e1e" stroke-width="3.7" />
<line x1="1719.8" y1="472.2" x2="1730.2" y2="472.2" stroke="#1e1e1e" stroke-width="3.7" />
<line x1="1074.4" y1="553.4" x2="1080.7" y2="553.4" stroke="#1e1e1e" stroke-width="3.7" />
<line x1="2049.8" y1="553.4" x2="2043.5" y2="553.4" stroke="#1e1e1e" stroke-width="3.7" />
<line x1="1396.1" y1="553.4" x2="1406.5" y2="553.4" stroke="#1e1e1e" stroke-width="3.7" />
<line x1="1719.8" y1="553.4" x2="1730.2" y2="553.4" stroke="#1e1e1e" stroke-width="3.7" />
<line x1="1074.4" y1="634.6" x2="1080.7" y2="634.6" stroke="#1e1e1e" stroke-width="3.7" />
<line x1="2049.8" y1="634.6" x2="2043.5" y2="634.6" stroke="#1e1e1e" stroke-width="3.7" />
<line x1="1396.1" y1="634.6" x2="1406.5" y2="634.6" stroke="#1e1e1e" stroke-width="3.7" />
<line x1="1719.8" y1="634.6" x2="1730.2" y2="634.6" stroke="#1e1e1e" stroke-width="3.7" />
<line x1="1415.3" y1="276.4" x2="1725.0" y2="276.4" stroke="#7f7f7f" stroke-width="2.3" stroke-dasharray="9.5 6 4.8 5.7" />
<path d="M1401.5,276.6 C1404.9,277.0 1415.3,277.7 1421.9,279.1 C1428.5,280.5 1434.8,282.5 1441.0,284.9 C1447.2,287.2 1453.0,289.9 1458.9,293.2 C1464.9,296.5 1471.6,300.6 1476.7,304.6 C1481.8,308.6 1485.7,312.9 1489.5,317.4 C1493.3,321.9 1496.7,326.5 1499.7,331.4 C1502.7,336.3 1505.2,341.6 1507.3,346.7 C1509.4,351.8 1511.0,357.3 1512.4,362.0 C1513.8,366.7 1514.9,370.3 1515.6,374.8 C1516.2,379.3 1516.2,386.5 1516.3,388.8" fill="none" stroke="#7f7f7f" stroke-width="2.3" stroke-dasharray="8.5 5" />
<path d="M1515.7,712.0 C1516.0,707.8 1516.5,694.6 1517.5,686.7 C1518.5,678.9 1520.1,672.2 1521.9,664.9 C1523.7,657.6 1525.9,650.3 1528.4,643.0 C1531.0,635.7 1533.7,628.4 1537.2,621.1 C1540.7,613.8 1544.8,605.8 1549.2,599.3 C1553.6,592.8 1557.2,589.1 1563.4,581.8 C1569.6,574.5 1579.4,562.7 1586.3,555.6 C1593.2,548.5 1597.4,544.3 1604.9,539.2 C1612.4,534.1 1622.3,529.0 1631.1,525.0 C1639.8,521.0 1648.3,517.8 1657.4,515.1 C1666.5,512.4 1677.1,510.2 1685.8,508.6 C1694.5,507.0 1703.2,506.2 1709.8,505.7 C1716.3,505.1 1722.5,505.4 1725.1,505.3" fill="none" stroke="#7f7f7f" stroke-width="2.3" stroke-dasharray="11 4.4 3.3 4.4" />
<polygon points="1402.8,276.4 1419.3,272.0 1419.3,280.8" fill="#7f7f7f"/>
<line x1="1501.0" y1="66.2" x2="1501.0" y2="710.8" stroke="#ffc000" stroke-width="2.5" stroke-dasharray="10 5.5" />
<line x1="1401.3" y1="626.8" x2="1114.0" y2="626.8" stroke="#b0b0b0" stroke-width="2.3" />
<polygon points="1107.3,626.8 1118.3,622.8 1118.3,630.8" fill="#b0b0b0"/>
<line x1="1401.3" y1="516.3" x2="1155.0" y2="516.3" stroke="#b0b0b0" stroke-width="2.3" />
<polygon points="1148.3,516.3 1159.3,512.3 1159.3,520.3" fill="#b0b0b0"/>
<path d="M1077.0,69.0 C1078.3,74.0 1082.0,88.7 1084.6,99.2 C1087.2,109.7 1089.8,121.0 1092.8,132.0 C1095.8,142.9 1099.3,154.4 1102.6,164.8 C1105.9,175.1 1108.8,183.8 1112.5,194.3 C1116.1,204.8 1120.8,217.9 1124.6,227.7 C1128.4,237.5 1131.4,244.6 1135.4,253.3 C1139.4,261.9 1143.6,270.2 1148.5,279.5 C1153.4,288.8 1158.9,299.2 1164.9,309.0 C1170.9,318.9 1177.5,329.2 1184.6,338.5 C1191.7,347.8 1198.8,356.2 1207.5,364.8 C1216.3,373.3 1232.1,385.5 1237.0,389.7" fill="none" stroke="#ff00ff" stroke-width="5.5" stroke-dasharray="15.6 3.6 8 3.6" />
<path d="M1077.0,713.0 C1078.3,708.0 1082.0,693.3 1084.6,682.8 C1087.2,672.3 1089.8,661.0 1092.8,650.0 C1095.8,639.1 1099.3,627.6 1102.6,617.2 C1105.9,606.9 1108.8,598.2 1112.5,587.7 C1116.1,577.2 1120.8,564.1 1124.6,554.3 C1128.4,544.5 1131.4,537.4 1135.4,528.7 C1139.4,520.1 1143.6,511.8 1148.5,502.5 C1153.4,493.2 1158.9,482.8 1164.9,473.0 C1170.9,463.1 1177.5,452.8 1184.6,443.5 C1191.7,434.2 1198.8,425.8 1207.5,417.2 C1216.3,408.7 1232.1,396.5 1237.0,392.3" fill="none" stroke="#000000" stroke-width="5.2" stroke-dasharray="3.5 4" />
<path d="M1402.4,70.0 C1402.8,72.7 1404.1,80.8 1405.0,86.1 C1405.9,91.4 1407.0,96.8 1408.0,102.1 C1409.0,107.4 1409.9,112.8 1411.0,118.1 C1412.1,123.4 1413.2,128.8 1414.4,134.1 C1415.6,139.4 1416.8,144.8 1418.1,150.2 C1419.4,155.5 1420.6,160.9 1422.1,166.2 C1423.6,171.5 1425.3,176.7 1427.1,182.2 C1428.9,187.7 1430.9,193.8 1433.1,199.3 C1435.3,204.8 1437.4,210.0 1440.1,215.3 C1442.8,220.6 1445.9,226.3 1449.1,231.3 C1452.3,236.3 1455.6,241.4 1459.1,245.4 C1462.6,249.4 1466.3,252.7 1470.2,255.4 C1474.1,258.1 1478.0,260.0 1482.2,261.4 C1486.4,262.8 1490.9,263.8 1495.2,264.0 C1499.5,264.2 1503.7,263.7 1508.2,262.8 C1512.7,261.9 1517.6,260.1 1522.3,258.4 C1527.0,256.7 1531.6,254.6 1536.3,252.4 C1541.0,250.2 1545.6,247.9 1550.3,245.4 C1555.0,242.9 1559.6,239.9 1564.3,237.4 C1569.0,234.9 1574.8,232.1 1578.4,230.3 C1582.1,228.5 1582.9,228.6 1586.2,226.6 C1589.5,224.6 1593.6,221.9 1598.4,218.2 C1603.2,214.5 1609.3,209.5 1614.8,204.3 C1620.2,199.1 1625.6,193.0 1631.1,187.0 C1636.5,181.0 1642.0,174.9 1647.5,168.2 C1653.0,161.5 1658.4,154.1 1663.9,146.9 C1669.4,139.7 1674.8,132.4 1680.3,124.8 C1685.8,117.1 1691.2,108.8 1696.7,101.0 C1702.2,93.2 1709.0,83.4 1713.1,78.0 C1717.2,72.6 1720.1,70.1 1721.5,68.5" fill="none" stroke="#000000" stroke-width="5.2" stroke-dasharray="3.5 4" />
<path d="M1402.4,712.0 C1402.8,709.3 1404.1,701.2 1405.0,695.9 C1405.9,690.5 1407.0,685.2 1408.0,679.9 C1409.0,674.6 1409.9,669.2 1411.0,663.9 C1412.1,658.6 1413.2,653.2 1414.4,647.9 C1415.6,642.5 1416.8,637.1 1418.1,631.8 C1419.4,626.4 1420.6,621.1 1422.1,615.8 C1423.6,610.5 1425.3,605.3 1427.1,599.8 C1428.9,594.3 1430.9,588.2 1433.1,582.7 C1435.3,577.2 1437.4,572.0 1440.1,566.7 C1442.8,561.4 1445.9,555.7 1449.1,550.7 C1452.3,545.7 1455.6,540.6 1459.1,536.6 C1462.6,532.6 1466.3,529.3 1470.2,526.6 C1474.1,523.9 1478.0,522.0 1482.2,520.6 C1486.4,519.2 1490.9,518.2 1495.2,518.0 C1499.5,517.8 1503.7,518.3 1508.2,519.2 C1512.7,520.1 1517.6,521.9 1522.3,523.6 C1527.0,525.3 1531.6,527.4 1536.3,529.6 C1541.0,531.8 1545.6,534.1 1550.3,536.6 C1555.0,539.1 1559.6,542.1 1564.3,544.6 C1569.0,547.1 1574.8,549.9 1578.4,551.7 C1582.1,553.5 1582.9,553.4 1586.2,555.4 C1589.5,557.4 1593.6,560.1 1598.4,563.8 C1603.2,567.5 1609.3,572.5 1614.8,577.7 C1620.2,582.9 1625.6,589.0 1631.1,595.0 C1636.5,601.0 1642.0,607.1 1647.5,613.8 C1653.0,620.5 1658.4,627.9 1663.9,635.1 C1669.4,642.3 1674.8,649.6 1680.3,657.2 C1685.8,664.9 1691.2,673.2 1696.7,681.0 C1702.2,688.8 1709.0,698.6 1713.1,704.0 C1717.2,709.4 1720.1,711.9 1721.5,713.5" fill="none" stroke="#ff00ff" stroke-width="5.5" stroke-dasharray="15.6 3.6 8 3.6" />
<path d="M1725.3,67.7 C1733.6,78.9 1755.6,109.3 1775.2,134.4 C1794.7,159.6 1821.8,194.8 1842.5,218.7 C1863.3,242.5 1877.4,257.4 1899.8,277.6 C1922.3,297.9 1952.6,321.4 1977.3,340.0 C2002.0,358.6 2036.3,381.0 2048.1,389.2" fill="none" stroke="#ff00ff" stroke-width="5.5" stroke-dasharray="15.6 3.6 8 3.6" />
<path d="M1725.3,714.3 C1733.6,703.1 1755.6,672.7 1775.2,647.6 C1794.7,622.4 1821.8,587.2 1842.5,563.3 C1863.3,539.5 1877.4,524.6 1899.8,504.4 C1922.3,484.1 1952.6,460.6 1977.3,442.0 C2002.0,423.4 2036.3,401.0 2048.1,392.8" fill="none" stroke="#000000" stroke-width="5.2" stroke-dasharray="3.5 4" />
<path d="M1402.4,266.8 C1405.4,266.5 1413.8,265.9 1420.1,264.8 C1426.4,263.7 1433.4,262.3 1440.1,260.4 C1446.8,258.5 1453.4,256.1 1460.1,253.4 C1466.8,250.7 1473.5,247.5 1480.2,244.4 C1486.9,241.3 1494.3,237.4 1500.2,234.6 C1506.1,231.8 1510.0,230.3 1515.4,227.3 C1520.8,224.3 1527.2,220.2 1532.8,216.6 C1538.4,212.9 1543.7,209.2 1549.2,205.4 C1554.7,201.6 1560.1,197.8 1565.6,193.9 C1571.1,190.0 1576.5,186.1 1582.0,182.1 C1587.5,178.1 1592.9,174.2 1598.4,170.2 C1603.9,166.2 1609.3,162.2 1614.8,158.2 C1620.2,154.1 1625.6,150.1 1631.1,145.9 C1636.5,141.7 1642.0,137.3 1647.5,133.0 C1653.0,128.7 1658.4,124.2 1663.9,119.8 C1669.4,115.4 1674.8,111.0 1680.3,106.5 C1685.8,102.0 1691.2,97.4 1696.7,92.8 C1702.2,88.2 1708.5,82.8 1713.1,78.9 C1717.7,75.0 1722.3,70.9 1724.2,69.3" fill="none" stroke="#0000ff" stroke-width="5.5" />
<path d="M1402.4,515.2 C1405.4,515.5 1413.8,516.1 1420.1,517.2 C1426.4,518.3 1433.4,519.7 1440.1,521.6 C1446.8,523.5 1453.4,525.9 1460.1,528.6 C1466.8,531.3 1473.5,534.5 1480.2,537.6 C1486.9,540.7 1494.3,544.5 1500.2,547.4 C1506.1,550.2 1510.0,551.7 1515.4,554.7 C1520.8,557.7 1527.2,561.8 1532.8,565.4 C1538.4,569.0 1543.7,572.8 1549.2,576.6 C1554.7,580.4 1560.1,584.2 1565.6,588.1 C1571.1,592.0 1576.5,596.0 1582.0,599.9 C1587.5,603.8 1592.9,607.8 1598.4,611.8 C1603.9,615.8 1609.3,619.8 1614.8,623.8 C1620.2,627.8 1625.6,631.9 1631.1,636.1 C1636.5,640.3 1642.0,644.6 1647.5,649.0 C1653.0,653.4 1658.4,657.8 1663.9,662.2 C1669.4,666.6 1674.8,671.0 1680.3,675.5 C1685.8,680.0 1691.2,684.6 1696.7,689.2 C1702.2,693.8 1708.5,699.2 1713.1,703.1 C1717.7,707.0 1722.3,711.1 1724.2,712.7" fill="none" stroke="#0000ff" stroke-width="5.5" />
<line x1="1124.6" y1="553.4" x2="1124.6" y2="228.6" stroke="#e60012" stroke-width="2.1" />
<polygon points="1124.6,229.1 1128.9,244.1 1120.3,244.1" fill="#e60012"/>
<polygon points="1124.6,394.0 1128.9,409.0 1120.3,409.0" fill="#e60012"/>
<line x1="1124.6" y1="228.6" x2="1391.3" y2="228.6" stroke="#e60012" stroke-width="2.1" />
<polygon points="1399.8,228.6 1383.3,233.0 1383.3,224.2" fill="#e60012"/>
<line x1="1402.3" y1="228.6" x2="1577.2" y2="228.6" stroke="#e60012" stroke-width="5.5" />
<polygon points="1586.7,228.6 1572.7,236.1 1572.7,221.1" fill="#e60012"/>
<line x1="1586.2" y1="228.6" x2="1586.2" y2="553.4" stroke="#e60012" stroke-width="2.1" />
<polygon points="1586.2,389.0 1581.9,374.0 1590.5,374.0" fill="#e60012"/>
<polygon points="1586.2,552.9 1581.9,538.9 1590.5,538.9" fill="#e60012"/>
<line x1="1586.2" y1="553.4" x2="1411.3" y2="553.4" stroke="#e60012" stroke-width="5.5" />
<polygon points="1402.8,553.4 1419.8,546.9 1419.8,559.9" fill="#e60012"/>
<line x1="1401.3" y1="553.4" x2="1134.6" y2="553.4" stroke="#e60012" stroke-width="2.1" />
<polygon points="1130.1,553.4 1141.1,549.1 1141.1,557.7" fill="#e60012"/>
<line x1="1403.3" y1="228.6" x2="1507.4" y2="228.6" stroke="#00a651" stroke-width="2.8" />
<polygon points="1515.4,228.6 1500.4,232.9 1500.4,224.3" fill="#00a651"/>
<line x1="1515.4" y1="228.6" x2="1515.4" y2="383.0" stroke="#00a651" stroke-width="2.8" />
<polygon points="1515.4,389.0 1510.7,375.0 1520.1,375.0" fill="#00a651"/>
<line x1="1515.4" y1="715.8" x2="1515.4" y2="561.4" stroke="#00a651" stroke-width="2.1" />
<polygon points="1515.4,553.9 1519.9,567.9 1510.9,567.9" fill="#00a651"/>
<line x1="1515.4" y1="553.4" x2="1415.3" y2="553.4" stroke="#00a651" stroke-width="2.8" />
<polygon points="1407.3,553.4 1420.3,549.1 1420.3,557.7" fill="#00a651"/>
<line x1="1725.0" y1="276.4" x2="1891.8" y2="276.4" stroke="#00a651" stroke-width="2.1" />
<polygon points="1899.8,276.4 1884.8,280.7 1884.8,272.1" fill="#00a651"/>
<line x1="1899.8" y1="276.4" x2="1899.8" y2="497.6" stroke="#00a651" stroke-width="2.1" />
<polygon points="1899.8,389.0 1895.5,374.0 1904.1,374.0" fill="#00a651"/>
<polygon points="1899.8,505.1 1895.5,490.1 1904.1,490.1" fill="#00a651"/>
<line x1="1899.8" y1="505.6" x2="1735.0" y2="505.6" stroke="#00a651" stroke-width="2.1" />
<polygon points="1727.0,505.6 1742.0,501.3 1742.0,509.9" fill="#00a651"/>
<rect x="1074.4" y="66.2" width="975.4" height="649.6" fill="none" stroke="#1e1e1e" stroke-width="5.9" stroke-linejoin="round"/>
<circle cx="1500.4" cy="390.7" r="5" fill="#e60012"/>
<circle cx="1400.7" cy="516.3" r="4.8" fill="#e60012"/>
<polygon points="1100.5,617.7 1103.0,623.8 1109.6,624.3 1104.6,628.6 1106.1,635.1 1100.5,631.6 1094.9,635.1 1096.4,628.6 1091.4,624.3 1098.0,623.8" fill="#0f9be3"/>
<polygon points="1123.8,544.1 1126.3,550.2 1132.9,550.7 1127.9,555.0 1129.4,561.5 1123.8,558.0 1118.2,561.5 1119.7,555.0 1114.7,550.7 1121.3,550.2" fill="#0f9be3"/>
<polygon points="1141.0,507.2 1143.5,513.3 1150.1,513.8 1145.1,518.1 1146.6,524.6 1141.0,521.1 1135.4,524.6 1136.9,518.1 1131.9,513.8 1138.5,513.3" fill="#0f9be3"/>
<rect x="2069.3" y="204.3" width="75.6" height="97" fill="#fff" stroke="#222" stroke-width="1.9"/>
<line x1="2073.2" y1="222.5" x2="2112.5" y2="222.5" stroke="#ff00ff" stroke-width="3.4" stroke-dasharray="12.5 3.5 6.3 3.7" />
<line x1="2073.2" y1="252.1" x2="2112.5" y2="252.1" stroke="#0000ff" stroke-width="3.3" />
<line x1="2073.2" y1="286.0" x2="2112.5" y2="286.0" stroke="#000000" stroke-width="4" stroke-dasharray="3 3.8" />
<rect x="1069.3" y="768.3" width="997.5" height="252.2" fill="#0c0c0c"/>
<polygon points="1267.3,797.1 1290.8,799.7 1304.5,804.6 1306.5,816.3 1320.2,835.0 1316.3,849.6 1313.4,863.4 1310.4,877.1 1306.5,890.8 1296.7,902.5 1285.0,905.5 1282.0,918.2 1279.1,933.9 1275.2,941.7 1257.5,975.0 1222.3,990.7 1189.0,989.7 1192.9,980.9 1165.5,965.2 1169.4,959.3 1158.6,949.5 1166.4,943.7 1154.7,933.9 1161.5,930.0 1150.8,920.2 1171.3,902.5 1154.7,898.6 1151.8,886.9 1155.7,881.0 1194.8,854.5 1216.4,832.0 1234.0,827.1 1233.0,820.3" fill="#e3e0d8" stroke="none" stroke-width="0.6" stroke-linejoin="round"/>
<polygon points="1277.1,861.4 1302.6,854.5 1316.3,849.6 1313.4,863.4 1281.0,871.2" fill="#dddcde" stroke="none" stroke-width="0.6" stroke-linejoin="round"/>
<polygon points="1281.0,871.2 1313.4,863.4 1312.4,867.3 1283.0,876.1" fill="#6f6d72" stroke="none" stroke-width="0.6" stroke-linejoin="round"/>
<polygon points="1283.0,876.1 1312.4,867.3 1310.4,877.1 1285.0,884.9" fill="#d6d6dc" stroke="none" stroke-width="0.6" stroke-linejoin="round"/>
<polygon points="1285.0,884.9 1310.4,877.1 1309.4,881.0 1285.9,889.8" fill="#6f6d72" stroke="none" stroke-width="0.6" stroke-linejoin="round"/>
<polygon points="1285.9,889.8 1309.4,881.0 1306.5,890.8 1296.7,902.5 1285.0,905.5" fill="#d2d2d8" stroke="none" stroke-width="0.6" stroke-linejoin="round"/>
<polygon points="1234.0,820.3 1267.3,797.1 1281.0,804.6 1249.7,824.2" fill="#e2dfd6" stroke="none" stroke-width="0.6" stroke-linejoin="round"/>
<polygon points="1267.3,797.1 1290.8,799.7 1304.5,804.6 1281.0,812.4 1281.0,804.6" fill="#eeece6" stroke="none" stroke-width="0.6" stroke-linejoin="round"/>
<polygon points="1257.5,816.3 1275.2,812.4 1288.9,818.3 1277.1,832.0 1265.4,824.2" fill="#7d7a71" stroke="none" stroke-width="0.6" stroke-linejoin="round"/>
<polygon points="1249.7,824.2 1281.0,804.6 1281.0,812.4 1265.4,824.2 1257.5,816.3" fill="#cfccc2" stroke="none" stroke-width="0.6" stroke-linejoin="round"/>
<polygon points="1278.1,831.0 1306.5,814.4 1320.2,835.0 1302.6,854.5" fill="#ebe8df" stroke="none" stroke-width="0.6" stroke-linejoin="round"/>
<polygon points="1277.1,832.0 1288.9,818.3 1306.5,814.4 1278.1,831.0" fill="#dbd8ce" stroke="none" stroke-width="0.6" stroke-linejoin="round"/>
<polygon points="1234.0,827.1 1249.7,824.2 1265.4,824.2 1277.1,832.0 1278.1,831.0 1302.6,854.5 1277.1,861.4 1265.4,843.8 1259.5,843.8 1259.5,828.1" fill="#c9c9d4" stroke="none" stroke-width="0.6" stroke-linejoin="round"/>
<polygon points="1261.4,827.1 1277.1,834.0 1275.2,843.8 1265.4,843.8" fill="#a8a7ae" stroke="none" stroke-width="0.6" stroke-linejoin="round"/>
<polygon points="1194.8,854.5 1216.4,832.0 1232.1,843.8 1204.6,867.3" fill="#e0ddd4" stroke="none" stroke-width="0.6" stroke-linejoin="round"/>
<polygon points="1216.4,832.0 1234.0,827.1 1259.5,828.1 1259.5,843.8 1236.0,843.8 1232.1,843.8" fill="#e9e6dd" stroke="none" stroke-width="0.6" stroke-linejoin="round"/>
<polygon points="1204.6,867.3 1232.1,843.8 1241.9,859.4 1218.4,877.1" fill="#8b877e" stroke="none" stroke-width="0.6" stroke-linejoin="round"/>
<polygon points="1222.3,863.4 1237.9,857.5 1241.9,867.3 1226.2,875.1" fill="#55514a" stroke="none" stroke-width="0.6" stroke-linejoin="round"/>
<polygon points="1155.7,881.0 1194.8,854.5 1204.6,867.3 1192.9,880.0" fill="#e4e1d8" stroke="none" stroke-width="0.6" stroke-linejoin="round"/>
<polygon points="1192.9,880.0 1204.6,867.3 1218.4,877.1 1216.4,899.6 1204.6,897.6" fill="#7a766d" stroke="none" stroke-width="0.6" stroke-linejoin="round"/>
<polygon points="1202.7,882.9 1216.4,881.0 1217.4,894.7 1205.6,896.7" fill="#3f3c36" stroke="none" stroke-width="0.6" stroke-linejoin="round"/>
<polygon points="1236.0,843.8 1259.5,843.8 1265.4,843.8 1249.7,849.6 1237.9,857.5" fill="#e6e3da" stroke="none" stroke-width="0.6" stroke-linejoin="round"/>
<polygon points="1265.4,843.8 1265.4,861.4 1239.9,875.1 1216.4,899.6 1218.4,886.9 1249.7,849.6" fill="#dbd8ce" stroke="none" stroke-width="0.6" stroke-linejoin="round"/>
<polygon points="1265.4,861.4 1285.0,886.9 1281.0,902.5 1261.4,926.0 1222.3,913.3 1216.4,899.6 1239.9,875.1" fill="#ebe8df" stroke="none" stroke-width="0.6" stroke-linejoin="round"/>
<polygon points="1155.7,881.0 1192.9,880.0 1172.3,902.5 1154.7,898.6 1151.8,886.9" fill="#d2d2dc" stroke="none" stroke-width="0.6" stroke-linejoin="round"/>
<polygon points="1192.9,880.0 1204.6,897.6 1222.3,913.3 1228.1,920.2 1212.5,941.7 1175.3,920.2 1172.3,902.5" fill="#f2f2f4" stroke="none" stroke-width="0.6" stroke-linejoin="round"/>
<polygon points="1192.9,880.0 1204.6,897.6 1222.3,913.3 1198.8,910.4 1187.0,894.7" fill="#c8c9d6" stroke="none" stroke-width="0.6" stroke-linejoin="round"/>
<polygon points="1150.8,920.2 1172.3,902.5 1175.3,920.2 1212.5,941.7 1189.0,939.8" fill="#e8e8ec" stroke="none" stroke-width="0.6" stroke-linejoin="round"/>
<polygon points="1222.3,913.3 1261.4,926.0 1257.5,930.0 1228.1,920.2" fill="#c4c5d2" stroke="none" stroke-width="0.6" stroke-linejoin="round"/>
<polygon points="1154.7,933.9 1161.5,930.0 1189.0,939.8 1212.5,941.7 1228.1,920.2 1261.4,926.0 1282.0,918.2 1279.1,933.9 1275.2,941.7 1257.5,975.0 1222.3,990.7 1189.0,989.7 1192.9,980.9 1165.5,965.2 1169.4,959.3 1158.6,949.5 1166.4,943.7" fill="#8e8d94" stroke="none" stroke-width="0.6" stroke-linejoin="round"/>
<polygon points="1155.7,933.9 1179.2,930.9 1212.5,941.7 1187.0,944.6" fill="#ececef" stroke="none" stroke-width="0.6" stroke-linejoin="round"/>
<polygon points="1218.4,935.8 1257.5,929.0 1280.1,922.1 1277.1,933.9 1255.6,941.7 1224.2,945.6" fill="#ecebe8" stroke="none" stroke-width="0.6" stroke-linejoin="round"/>
<polygon points="1159.6,949.5 1183.1,945.2 1216.4,953.5 1189.0,957.8" fill="#e6e6ea" stroke="none" stroke-width="0.6" stroke-linejoin="round"/>
<polygon points="1224.2,951.5 1257.5,944.1 1275.2,939.8 1265.4,955.4 1226.2,961.7" fill="#e8e7e6" stroke="none" stroke-width="0.6" stroke-linejoin="round"/>
<polygon points="1166.4,964.2 1187.0,958.9 1218.4,969.1 1192.9,979.3" fill="#dedee4" stroke="none" stroke-width="0.6" stroke-linejoin="round"/>
<polygon points="1226.2,967.6 1263.4,958.4 1256.6,973.4 1224.2,986.8" fill="#e2e1e2" stroke="none" stroke-width="0.6" stroke-linejoin="round"/>
<polygon points="1192.9,980.9 1218.4,973.1 1222.3,989.7 1190.0,989.1" fill="#d0d0d6" stroke="none" stroke-width="0.6" stroke-linejoin="round"/>
<polygon points="1602.3,794.0 1618.3,792.0 1630.4,797.0 1634.4,805.0 1648.4,809.0 1657.4,823.1 1652.4,837.1 1656.4,842.1 1649.4,858.1 1650.4,863.2 1642.4,875.2 1638.4,889.2 1622.3,893.2 1621.3,905.2 1618.3,923.3 1606.3,945.3 1598.3,961.4 1580.3,965.4 1574.2,971.4 1562.2,983.4 1554.2,996.4 1546.2,993.4 1516.1,983.4 1518.1,973.4 1482.1,959.3 1490.1,951.3 1475.1,945.3 1484.1,937.3 1469.0,927.3 1480.1,919.3 1461.0,903.2 1488.1,885.2 1477.1,871.2 1508.1,849.1 1550.2,829.1 1550.2,821.1 1566.2,807.0 1586.3,804.0" fill="#e3e0d8" stroke="none" stroke-width="0.6" stroke-linejoin="round"/>
<polygon points="1566.2,807.0 1602.3,794.0 1618.3,792.0 1630.4,797.0 1634.4,805.0 1616.3,811.1 1604.3,823.1 1590.3,813.1 1570.2,825.1 1550.2,829.1 1550.2,821.1" fill="#e1ded5" stroke="none" stroke-width="0.6" stroke-linejoin="round"/>
<polygon points="1588.3,807.0 1608.3,803.0 1612.3,813.1 1602.3,821.1" fill="#6f6b62" stroke="none" stroke-width="0.6" stroke-linejoin="round"/>
<polygon points="1550.2,829.1 1570.2,825.1 1578.3,831.1 1562.2,841.1" fill="#8a8b86" stroke="none" stroke-width="0.6" stroke-linejoin="round"/>
<polygon points="1616.3,811.1 1634.4,805.0 1648.4,809.0 1657.4,823.1 1650.4,839.1 1620.3,845.1 1608.3,827.1" fill="#e9e7de" stroke="none" stroke-width="0.6" stroke-linejoin="round"/>
<polygon points="1586.3,819.1 1604.3,823.1 1608.3,827.1 1606.3,837.1 1590.3,837.1" fill="#c5c7d5" stroke="none" stroke-width="0.6" stroke-linejoin="round"/>
<polygon points="1590.3,837.1 1608.3,827.1 1620.3,845.1 1610.3,861.2 1594.3,851.1" fill="#e5e2d9" stroke="none" stroke-width="0.6" stroke-linejoin="round"/>
<polygon points="1620.3,845.1 1652.4,837.1 1656.4,842.1 1649.4,858.1 1622.3,863.2 1610.3,861.2" fill="#d2d3de" stroke="none" stroke-width="0.6" stroke-linejoin="round"/>
<polygon points="1622.3,863.2 1650.4,863.2 1642.4,875.2 1624.3,879.2" fill="#85848b" stroke="none" stroke-width="0.6" stroke-linejoin="round"/>
<polygon points="1624.3,879.2 1642.4,875.2 1638.4,889.2 1622.3,893.2" fill="#c9cad6" stroke="none" stroke-width="0.6" stroke-linejoin="round"/>
<polygon points="1622.3,863.2 1649.4,858.1 1650.4,863.2" fill="#e0e0e6" stroke="none" stroke-width="0.6" stroke-linejoin="round"/>
<polygon points="1477.1,871.2 1508.1,849.1 1526.2,863.2 1490.1,879.2" fill="#d9d6cb" stroke="none" stroke-width="0.6" stroke-linejoin="round"/>
<polygon points="1508.1,849.1 1550.2,829.1 1562.2,841.1 1554.2,845.1 1526.2,863.2" fill="#e6e3da" stroke="none" stroke-width="0.6" stroke-linejoin="round"/>
<polygon points="1526.2,863.2 1554.2,845.1 1566.2,851.1 1558.2,865.2 1534.2,873.2" fill="#8d8980" stroke="none" stroke-width="0.6" stroke-linejoin="round"/>
<polygon points="1530.2,873.2 1550.2,865.2 1544.2,879.2 1526.2,879.2" fill="#5b574e" stroke="none" stroke-width="0.6" stroke-linejoin="round"/>
<polygon points="1562.2,841.1 1578.3,831.1 1590.3,837.1 1570.2,843.1" fill="#e8e5dc" stroke="none" stroke-width="0.6" stroke-linejoin="round"/>
<polygon points="1562.2,863.2 1588.3,851.1 1590.3,837.1 1570.2,843.1 1546.2,869.2 1534.2,889.2" fill="#dbd8cf" stroke="none" stroke-width="0.6" stroke-linejoin="round"/>
<polygon points="1588.3,851.1 1620.3,879.2 1612.3,897.2 1600.3,909.2 1542.2,905.2 1534.2,889.2 1562.2,863.2" fill="#eae7de" stroke="none" stroke-width="0.6" stroke-linejoin="round"/>
<polygon points="1588.3,851.1 1594.3,851.1 1610.3,861.2 1622.3,863.2 1624.3,879.2 1620.3,879.2" fill="#b9b9c2" stroke="none" stroke-width="0.6" stroke-linejoin="round"/>
<polygon points="1488.1,885.2 1518.1,874.2 1490.1,887.2" fill="#c8c9d4" stroke="none" stroke-width="0.6" stroke-linejoin="round"/>
<polygon points="1461.0,903.2 1488.1,885.2 1490.1,887.2 1496.1,907.2 1480.1,919.3" fill="#e6e6ea" stroke="none" stroke-width="0.6" stroke-linejoin="round"/>
<polygon points="1518.1,874.2 1538.2,897.2 1542.2,905.2 1562.2,915.3 1546.2,935.3 1496.1,907.2 1490.1,887.2" fill="#f2f2f4" stroke="none" stroke-width="0.6" stroke-linejoin="round"/>
<polygon points="1518.1,874.2 1538.2,897.2 1562.2,915.3 1534.2,911.3 1512.1,897.2" fill="#c9cbd8" stroke="none" stroke-width="0.6" stroke-linejoin="round"/>
<polygon points="1518.1,874.2 1534.2,889.2 1542.2,905.2 1538.2,897.2" fill="#77746c" stroke="none" stroke-width="0.6" stroke-linejoin="round"/>
<polygon points="1562.2,915.3 1600.3,909.2 1594.3,917.3 1570.2,925.3" fill="#c9cbd8" stroke="none" stroke-width="0.6" stroke-linejoin="round"/>
<polygon points="1469.0,927.3 1480.1,919.3 1496.1,907.2 1546.2,935.3 1562.2,915.3 1570.2,925.3 1594.3,917.3 1600.3,909.2 1612.3,897.2 1622.3,893.2 1621.3,905.2 1618.3,923.3 1606.3,945.3 1598.3,961.4 1580.3,965.4 1574.2,971.4 1562.2,983.4 1554.2,996.4 1546.2,993.4 1516.1,983.4 1518.1,973.4 1482.1,959.3 1490.1,951.3 1475.1,945.3 1484.1,937.3" fill="#9796a0" stroke="none" stroke-width="0.6" stroke-linejoin="round"/>
<polygon points="1470.0,926.3 1496.1,909.6 1522.1,923.7 1492.1,937.7" fill="#efeff1" stroke="none" stroke-width="0.6" stroke-linejoin="round"/>
<polygon points="1528.2,943.3 1566.2,925.3 1574.2,937.3 1558.2,961.4 1536.2,953.3" fill="#eeedec" stroke="none" stroke-width="0.6" stroke-linejoin="round"/>
<polygon points="1476.1,943.7 1492.1,938.3 1522.1,945.3 1498.1,957.7" fill="#e4e4ea" stroke="none" stroke-width="0.6" stroke-linejoin="round"/>
<polygon points="1484.1,957.7 1498.1,957.7 1526.2,961.8 1516.1,977.8" fill="#dcdce4" stroke="none" stroke-width="0.6" stroke-linejoin="round"/>
<polygon points="1574.2,933.3 1618.3,923.3 1606.3,945.3 1578.3,951.3" fill="#e2e2e6" stroke="none" stroke-width="0.6" stroke-linejoin="round"/>
<polygon points="1538.2,969.4 1570.2,957.3 1562.2,983.4 1546.2,993.4" fill="#e6e6e6" stroke="none" stroke-width="0.6" stroke-linejoin="round"/>
<polygon points="1578.3,953.3 1606.3,945.3 1598.3,961.4 1580.3,965.4" fill="#d8d8de" stroke="none" stroke-width="0.6" stroke-linejoin="round"/>
<polygon points="1516.1,977.8 1534.2,965.4 1546.2,993.4 1516.1,983.4" fill="#cfcfd6" stroke="none" stroke-width="0.6" stroke-linejoin="round"/>
<polygon points="1498.1,925.3 1522.1,923.7 1546.2,935.3 1528.2,943.3 1510.1,937.3" fill="#c3c3cc" stroke="none" stroke-width="0.6" stroke-linejoin="round"/>
<polygon points="1894.5,805.3 1922.5,813.7 1930.0,809.0 1961.7,812.7 1979.5,836.1 1977.6,851.0 1975.7,867.8 1973.9,879.0 1969.2,899.5 1961.7,910.7 1960.8,925.7 1952.4,940.6 1954.3,959.3 1924.4,970.5 1918.8,983.5 1909.5,979.8 1877.7,963.0 1872.1,971.4 1870.3,961.1 1834.8,961.1 1832.9,951.8 1818.0,933.1 1819.9,923.8 1812.4,914.5 1807.7,901.4 1808.7,896.7 1801.2,879.0 1808.7,877.1 1804.0,867.8 1823.6,856.6 1855.3,831.4 1868.4,831.4 1869.3,823.0" fill="#e3e0d8" stroke="none" stroke-width="0.6" stroke-linejoin="round"/>
<polygon points="1879.6,854.7 1890.8,834.2 1920.7,830.5 1924.4,847.3 1918.8,869.7 1920.7,884.6 1902.0,884.6 1887.1,873.4" fill="#8b877e" stroke="none" stroke-width="0.6" stroke-linejoin="round"/>
<polygon points="1887.1,836.1 1913.2,841.7 1909.5,849.1 1888.9,845.4" fill="#d8d9e2" stroke="none" stroke-width="0.6" stroke-linejoin="round"/>
<polygon points="1890.8,851.0 1915.1,854.7 1911.3,862.2 1892.7,858.5" fill="#cfd0da" stroke="none" stroke-width="0.6" stroke-linejoin="round"/>
<polygon points="1892.7,864.1 1913.2,866.9 1911.3,872.5 1894.5,869.7" fill="#b9bac4" stroke="none" stroke-width="0.6" stroke-linejoin="round"/>
<polygon points="1894.5,875.3 1916.9,873.4 1920.7,884.6 1905.7,886.5" fill="#1c1a16" stroke="none" stroke-width="0.6" stroke-linejoin="round"/>
<polygon points="1869.3,823.0 1894.5,805.3 1922.5,813.7 1920.7,830.5 1890.8,834.2" fill="#e5e2d9" stroke="none" stroke-width="0.6" stroke-linejoin="round"/>
<polygon points="1855.3,831.4 1868.4,831.4 1890.8,834.2 1879.6,854.7 1864.7,849.1" fill="#dedbd2" stroke="none" stroke-width="0.6" stroke-linejoin="round"/>
<polygon points="1823.6,856.6 1855.3,831.4 1866.5,847.3 1836.7,865.9" fill="#e7e4db" stroke="none" stroke-width="0.6" stroke-linejoin="round"/>
<polygon points="1804.0,867.8 1823.6,856.6 1836.7,865.9 1806.8,877.1" fill="#d9d6cd" stroke="none" stroke-width="0.6" stroke-linejoin="round"/>
<polygon points="1836.7,865.9 1866.5,847.3 1879.6,854.7 1887.1,873.4 1868.4,866.9" fill="#d2cfc5" stroke="none" stroke-width="0.6" stroke-linejoin="round"/>
<polygon points="1864.7,849.1 1879.6,854.7 1887.1,873.4 1877.7,865.9" fill="#a9a69c" stroke="none" stroke-width="0.6" stroke-linejoin="round"/>
<polygon points="1922.5,813.7 1930.0,809.0 1961.7,812.7 1954.3,834.2 1924.4,830.5" fill="#edebe5" stroke="none" stroke-width="0.6" stroke-linejoin="round"/>
<polygon points="1954.3,834.2 1961.7,812.7 1979.5,836.1 1977.6,851.0 1963.6,856.6" fill="#e5e2d9" stroke="none" stroke-width="0.6" stroke-linejoin="round"/>
<polygon points="1918.8,841.7 1931.9,828.6 1954.3,834.2 1963.6,856.6 1950.5,860.3 1939.3,845.4" fill="#e7e4db" stroke="none" stroke-width="0.6" stroke-linejoin="round"/>
<polygon points="1931.9,828.6 1939.3,845.4 1918.8,869.7 1918.8,841.7" fill="#d9d9e2" stroke="none" stroke-width="0.6" stroke-linejoin="round"/>
<polygon points="1939.3,845.4 1944.9,858.5 1920.7,884.6 1918.8,869.7" fill="#d6d3ca" stroke="none" stroke-width="0.6" stroke-linejoin="round"/>
<polygon points="1944.9,858.5 1963.6,879.0 1952.4,908.9 1924.4,899.5 1920.7,884.6" fill="#e8e5dc" stroke="none" stroke-width="0.6" stroke-linejoin="round"/>
<polygon points="1950.5,860.3 1963.6,856.6 1977.6,851.0 1975.7,867.8 1965.5,873.4 1963.6,879.0 1944.9,858.5" fill="#c9c9d2" stroke="none" stroke-width="0.6" stroke-linejoin="round"/>
<polygon points="1965.5,873.4 1975.7,867.8 1973.9,879.0 1969.2,899.5 1961.7,910.7 1952.4,908.9 1963.6,879.0" fill="#a5a4aa" stroke="none" stroke-width="0.6" stroke-linejoin="round"/>
<polygon points="1806.8,877.1 1836.7,865.9 1868.4,866.9 1853.5,880.9 1801.2,879.0" fill="#cfcfda" stroke="none" stroke-width="0.6" stroke-linejoin="round"/>
<polygon points="1801.2,879.0 1853.5,880.9 1868.4,866.9 1855.3,888.3 1834.8,899.5 1808.7,896.7" fill="#e8e8f0" stroke="none" stroke-width="0.6" stroke-linejoin="round"/>
<polygon points="1868.4,866.9 1879.6,879.0 1898.3,892.1 1890.8,910.7 1855.3,888.3" fill="#f1f0f3" stroke="none" stroke-width="0.6" stroke-linejoin="round"/>
<polygon points="1868.4,866.9 1894.5,877.1 1918.8,888.3 1898.3,892.1 1879.6,879.0" fill="#d9dae4" stroke="none" stroke-width="0.6" stroke-linejoin="round"/>
<polygon points="1898.3,892.1 1920.7,884.6 1924.4,899.5 1952.4,908.9 1920.7,925.7 1890.8,910.7" fill="#e6e7f0" stroke="none" stroke-width="0.6" stroke-linejoin="round"/>
<polygon points="1807.7,901.4 1808.7,896.7 1834.8,899.5 1855.3,888.3 1890.8,910.7 1920.7,925.7 1952.4,908.9 1961.7,910.7 1960.8,925.7 1952.4,940.6 1954.3,959.3 1924.4,970.5 1918.8,983.5 1909.5,979.8 1877.7,963.0 1872.1,971.4 1870.3,961.1 1834.8,961.1 1832.9,951.8 1818.0,933.1 1819.9,923.8 1812.4,914.5" fill="#9a99a2" stroke="none" stroke-width="0.6" stroke-linejoin="round"/>
<polygon points="1808.7,901.4 1834.8,899.9 1864.7,914.5 1838.5,918.6" fill="#ececf0" stroke="none" stroke-width="0.6" stroke-linejoin="round"/>
<polygon points="1868.4,921.9 1894.5,914.5 1902.0,929.4 1877.7,935.4" fill="#efeff0" stroke="none" stroke-width="0.6" stroke-linejoin="round"/>
<polygon points="1902.0,923.8 1920.7,926.0 1959.9,914.5 1958.0,925.7 1924.4,937.2" fill="#e8e8ee" stroke="none" stroke-width="0.6" stroke-linejoin="round"/>
<polygon points="1814.3,916.3 1838.5,918.9 1860.9,929.8 1842.3,935.4" fill="#e2e2ea" stroke="none" stroke-width="0.6" stroke-linejoin="round"/>
<polygon points="1872.1,937.2 1900.1,931.3 1905.7,944.3 1879.6,950.3" fill="#ececee" stroke="none" stroke-width="0.6" stroke-linejoin="round"/>
<polygon points="1905.7,941.0 1952.4,929.8 1954.3,942.5 1926.3,954.0" fill="#e4e4ea" stroke="none" stroke-width="0.6" stroke-linejoin="round"/>
<polygon points="1819.9,933.5 1842.3,935.8 1864.7,946.6 1846.0,954.0 1832.9,951.8" fill="#dcdce4" stroke="none" stroke-width="0.6" stroke-linejoin="round"/>
<polygon points="1875.9,952.2 1902.0,946.6 1905.7,959.3 1883.3,963.4" fill="#e6e6ea" stroke="none" stroke-width="0.6" stroke-linejoin="round"/>
<polygon points="1902.0,959.6 1952.4,944.7 1954.3,959.3 1924.4,970.5 1909.5,979.8" fill="#e0e0e6" stroke="none" stroke-width="0.6" stroke-linejoin="round"/>
<polygon points="1834.8,954.0 1851.6,955.9 1870.3,961.1 1834.8,961.1" fill="#d2d2da" stroke="none" stroke-width="0.6" stroke-linejoin="round"/>
<polygon points="374.4,182.4 398.5,182.4 398.5,173.8 416.8,191.5 398.5,209.2 398.5,200.6 374.4,200.6" fill="#4472c4" stroke="#172c55" stroke-width="2.5" stroke-linejoin="miter"/>
<polygon points="665.4,182.4 689.5,182.4 689.5,173.8 707.3,191.5 689.5,209.2 689.5,200.6 665.4,200.6" fill="#4472c4" stroke="#172c55" stroke-width="2.5" stroke-linejoin="miter"/>
<polygon points="372.6,521.9 395.8,521.9 395.8,512.5 414.5,531.4 395.8,550.3 395.8,540.9 372.6,540.9" fill="#4472c4" stroke="#172c55" stroke-width="2.5" stroke-linejoin="miter"/>
<polygon points="664.5,521.9 688.5,521.9 688.5,512.5 707.8,531.4 688.5,550.3 688.5,540.9 664.5,540.9" fill="#4472c4" stroke="#172c55" stroke-width="2.5" stroke-linejoin="miter"/>
<polygon points="372.6,873.5 395.8,873.5 395.8,863.6 414.2,882.7 395.8,901.8 395.8,892.0 372.6,892.0" fill="#4472c4" stroke="#172c55" stroke-width="2.5" stroke-linejoin="miter"/>
<polygon points="664.5,873.5 688.0,873.5 688.0,863.6 706.1,882.7 688.0,901.8 688.0,892.0 664.5,892.0" fill="#4472c4" stroke="#172c55" stroke-width="2.5" stroke-linejoin="miter"/>
<text x="24.6" y="99.3" font-size="42.6" class="" fill="#000" text-anchor="start" >(a)</text>
<text x="24.4" y="443.2" font-size="42.8" class="" fill="#000" text-anchor="start" >(b)</text>
<text x="23.5" y="782.2" font-size="42.6" class="" fill="#000" text-anchor="start" >(c)</text>
<text x="993.3" y="98.2" font-size="42.8" class="" fill="#000" text-anchor="start" >(d)</text>
<text x="985.3" y="782.2" font-size="42.8" class="" fill="#000" text-anchor="start" >(e)</text>
<text x="132.3" y="103.5" font-size="35.4">(<tspan class="i">i</tspan>)</text>
<text x="403.3" y="103.5" font-size="35.4">(<tspan class="i">ii</tspan>)</text>
<text x="692.5" y="103.5" font-size="35.4">(<tspan class="i">iii</tspan>)</text>
<text x="132.3" y="440.7" font-size="35.4">(<tspan class="i">i</tspan>)</text>
<text x="403.3" y="440.7" font-size="35.4">(<tspan class="i">ii</tspan>)</text>
<text x="692.5" y="440.7" font-size="35.4">(<tspan class="i">iii</tspan>)</text>
<text x="132.3" y="791.8" font-size="35.4">(<tspan class="i">i</tspan>)</text>
<text x="403.3" y="791.8" font-size="35.4">(<tspan class="i">ii</tspan>)</text>
<text x="692.5" y="791.8" font-size="35.4">(<tspan class="i">iii</tspan>)</text>
<text x="750.0" y="364.0" font-size="31.8" class="b" fill="#e60012" text-anchor="start" >Self-locking</text>
<text x="751.5" y="712.5" font-size="31.8" class="b" fill="#e60012" text-anchor="start" >Self-locking</text>
<text x="734.0" y="1065.0" font-size="31.8" class="b" fill="#e60012" text-anchor="start" >Self-locking</text>
<line x1="826.4" y1="342.1" x2="777.2" y2="262.9" stroke="#e60012" stroke-width="3.0" />
<polygon points="770.0,251.3 783.2,263.1 774.7,268.4" fill="#e60012"/>
<line x1="829.3" y1="690.0" x2="784.3" y2="619.0" stroke="#e60012" stroke-width="3.0" />
<polygon points="777.0,607.5 790.3,619.2 781.9,624.5" fill="#e60012"/>
<line x1="816.6" y1="1041.0" x2="780.9" y2="910.8" stroke="#e60012" stroke-width="3.0" />
<polygon points="777.3,897.7 786.6,912.8 777.0,915.4" fill="#e60012"/>
<line x1="714.6" y1="1017.3" x2="748.1" y2="974.3" stroke="#e60012" stroke-width="2.6" stroke-dasharray="3.4 4" />
<polygon points="755.0,965.5 749.9,979.3 742.8,973.8" fill="#e60012"/>
<rect x="886.5" y="814.5" width="59" height="107.5" fill="none" stroke="#e60012" stroke-width="2.2" stroke-dasharray="4.2 3.4"/>
<text x="1401.5" y="59.0" font-size="36" class="b i" fill="#000" text-anchor="middle" >π</text>
<text x="2054.0" y="59.0" font-size="36" class="b i" fill="#000" text-anchor="middle" >π</text>
<text x="1056.4" y="398.8" font-size="36" class="b i" fill="#000" text-anchor="middle" >π</text>
<text x="1402.5" y="738.8" font-size="36" class="b i" fill="#000" text-anchor="middle" >π</text>
<text x="2054.2" y="738.8" font-size="36" class="b i" fill="#000" text-anchor="middle" >π</text>
<text x="1706.8" y="417.8" font-size="36" class="b i" fill="#000" text-anchor="middle" >π</text>
<text x="1382.1" y="417.3" font-size="37" class="b" fill="#000" text-anchor="middle" >0</text>
<text x="2066.6" y="417.3" font-size="37" class="b" fill="#000" text-anchor="middle" >0</text>
<text x="1420" y="419" font-size="27" class="b">0.304<tspan class="i">π</tspan></text>
<text x="1392" y="507" font-size="27" class="b" text-anchor="end">0.391<tspan class="i">π</tspan></text>
<defs><filter id="bl" x="-20%" y="-20%" width="140%" height="140%"><feGaussianBlur stdDeviation="1.2"/></filter></defs>
<text x="1243.5" y="202.7" font-size="42" class="b" fill="#8a8f86" text-anchor="middle" opacity="0.7" filter="url(#bl)">B</text>
<text x="1241.5" y="200.7" font-size="42" class="b" fill="#7030a0" text-anchor="middle" >B</text>
<text x="1544.5" y="195.5" font-size="42" class="b" fill="#8a8f86" text-anchor="middle" opacity="0.7" filter="url(#bl)">C</text>
<text x="1542.5" y="193.5" font-size="42" class="b" fill="#7030a0" text-anchor="middle" >C</text>
<text x="1889.0" y="188.8" font-size="42" class="b" fill="#8a8f86" text-anchor="middle" opacity="0.7" filter="url(#bl)">E</text>
<text x="1887.0" y="186.8" font-size="42" class="b" fill="#7030a0" text-anchor="middle" >E</text>
<text x="1251.3" y="612.6" font-size="42" class="b" fill="#8a8f86" text-anchor="middle" opacity="0.7" filter="url(#bl)">A</text>
<text x="1249.3" y="610.6" font-size="42" class="b" fill="#7030a0" text-anchor="middle" >A</text>
<text x="1543.0" y="611.2" font-size="42" class="b" fill="#8a8f86" text-anchor="middle" opacity="0.7" filter="url(#bl)">D</text>
<text x="1541.0" y="609.2" font-size="42" class="b" fill="#7030a0" text-anchor="middle" >D</text>
<text x="1889.5" y="608.2" font-size="42" class="b" fill="#8a8f86" text-anchor="middle" opacity="0.7" filter="url(#bl)">F</text>
<text x="1887.5" y="606.2" font-size="42" class="b" fill="#7030a0" text-anchor="middle" >F</text>
<text x="1162.0" y="508.6" font-size="28">(<tspan class="i">iii</tspan>)</text>
<text x="1125.3" y="583.0" font-size="28">(<tspan class="i">ii</tspan>)</text>
<text x="1099.8" y="654.0" font-size="28">(<tspan class="i">i</tspan>)</text>
<text x="2117.5" y="229.1" font-size="29.5" class="i">φ<tspan font-size="13" dy="5.5" dx="0.5" font-style="normal">2</tspan></text>
<text x="2117.5" y="258.5" font-size="29.5" class="i">φ<tspan font-size="13" dy="5.5" dx="0.5" font-style="normal">3</tspan></text>
<text x="2117.5" y="289.4" font-size="29.5" class="i">φ<tspan font-size="13" dy="5.5" dx="0.5" font-style="normal">4</tspan></text>
<text x="1272.8" y="982.6" font-size="23" class="b" fill="#e60012" text-anchor="start" >Self-locking</text>
<text x="1604.4" y="982.6" font-size="23" class="b" fill="#e60012" text-anchor="start" >Self-locking</text>
<text x="1947.0" y="982.6" font-size="23" class="b" fill="#e60012" text-anchor="start" >Self-locking</text>
<line x1="1323.6" y1="966.5" x2="1240.9" y2="926.8" stroke="#e60012" stroke-width="1.9" />
<polygon points="1233.0,923.0 1244.4,924.6 1241.4,930.9" fill="#e60012"/>
<line x1="1659.4" y1="966.5" x2="1585.3" y2="918.5" stroke="#e60012" stroke-width="1.9" />
<polygon points="1577.9,913.7 1589.0,916.7 1585.2,922.6" fill="#e60012"/>
<line x1="2004.3" y1="966.5" x2="1924.6" y2="918.3" stroke="#e60012" stroke-width="1.9" />
<polygon points="1917.1,913.7 1928.3,916.4 1924.7,922.4" fill="#e60012"/>
</svg>
</body></html>
